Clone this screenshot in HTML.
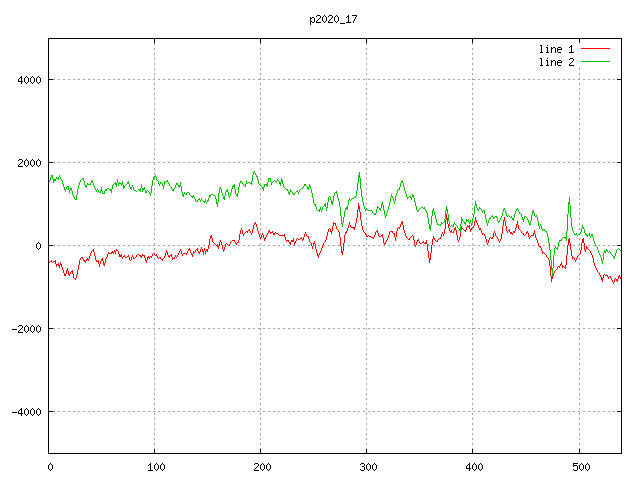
<!DOCTYPE html>
<html><head><meta charset="utf-8"><title>p2020_17</title>
<style>html,body{margin:0;padding:0;background:#fff;overflow:hidden}svg{display:block}text{font-family:"Liberation Mono",monospace;font-size:10px;fill:#000;fill-opacity:0}</style>
</head><body>
<svg width="640" height="480" viewBox="0 0 640 480" shape-rendering="crispEdges">
<rect width="640" height="480" fill="#fff"/>
<path fill="#a0a0a0" d="M154 43h1v1h-1zM260 43h1v1h-1zM366 43h1v1h-1zM472 43h1v1h-1zM154 44h1v1h-1zM260 44h1v1h-1zM366 44h1v1h-1zM472 44h1v1h-1zM154 48h1v1h-1zM260 48h1v1h-1zM366 48h1v1h-1zM472 48h1v1h-1zM154 49h1v1h-1zM260 49h1v1h-1zM366 49h1v1h-1zM472 49h1v1h-1zM154 53h1v1h-1zM260 53h1v1h-1zM366 53h1v1h-1zM472 53h1v1h-1zM154 54h1v1h-1zM260 54h1v1h-1zM366 54h1v1h-1zM472 54h1v1h-1zM154 58h1v1h-1zM260 58h1v1h-1zM366 58h1v1h-1zM472 58h1v1h-1zM154 59h1v1h-1zM260 59h1v1h-1zM366 59h1v1h-1zM472 59h1v1h-1zM154 63h1v1h-1zM260 63h1v1h-1zM366 63h1v1h-1zM472 63h1v1h-1zM154 64h1v1h-1zM260 64h1v1h-1zM366 64h1v1h-1zM472 64h1v1h-1zM154 68h1v1h-1zM260 68h1v1h-1zM366 68h1v1h-1zM472 68h1v1h-1zM579 68h1v1h-1zM154 69h1v1h-1zM260 69h1v1h-1zM366 69h1v1h-1zM472 69h1v1h-1zM579 69h1v1h-1zM154 73h1v1h-1zM260 73h1v1h-1zM366 73h1v1h-1zM472 73h1v1h-1zM579 73h1v1h-1zM154 74h1v1h-1zM260 74h1v1h-1zM366 74h1v1h-1zM472 74h1v1h-1zM579 74h1v1h-1zM154 78h1v1h-1zM260 78h1v1h-1zM366 78h1v1h-1zM472 78h1v1h-1zM579 78h1v1h-1zM53 79h2v1h-2zM58 79h2v1h-2zM63 79h2v1h-2zM68 79h2v1h-2zM73 79h2v1h-2zM78 79h2v1h-2zM83 79h2v1h-2zM88 79h2v1h-2zM93 79h2v1h-2zM98 79h2v1h-2zM103 79h2v1h-2zM108 79h2v1h-2zM113 79h2v1h-2zM118 79h2v1h-2zM123 79h2v1h-2zM128 79h2v1h-2zM133 79h2v1h-2zM138 79h2v1h-2zM143 79h2v1h-2zM148 79h2v1h-2zM153 79h2v1h-2zM158 79h2v1h-2zM163 79h2v1h-2zM168 79h2v1h-2zM173 79h2v1h-2zM178 79h2v1h-2zM183 79h2v1h-2zM188 79h2v1h-2zM193 79h2v1h-2zM198 79h2v1h-2zM203 79h2v1h-2zM208 79h2v1h-2zM213 79h2v1h-2zM218 79h2v1h-2zM223 79h2v1h-2zM228 79h2v1h-2zM233 79h2v1h-2zM238 79h2v1h-2zM243 79h2v1h-2zM248 79h2v1h-2zM253 79h2v1h-2zM258 79h3v1h-3zM263 79h2v1h-2zM268 79h2v1h-2zM273 79h2v1h-2zM278 79h2v1h-2zM283 79h2v1h-2zM288 79h2v1h-2zM293 79h2v1h-2zM298 79h2v1h-2zM303 79h2v1h-2zM308 79h2v1h-2zM313 79h2v1h-2zM318 79h2v1h-2zM323 79h2v1h-2zM328 79h2v1h-2zM333 79h2v1h-2zM338 79h2v1h-2zM343 79h2v1h-2zM348 79h2v1h-2zM353 79h2v1h-2zM358 79h2v1h-2zM363 79h2v1h-2zM366 79h1v1h-1zM368 79h2v1h-2zM373 79h2v1h-2zM378 79h2v1h-2zM383 79h2v1h-2zM388 79h2v1h-2zM393 79h2v1h-2zM398 79h2v1h-2zM403 79h2v1h-2zM408 79h2v1h-2zM413 79h2v1h-2zM418 79h2v1h-2zM423 79h2v1h-2zM428 79h2v1h-2zM433 79h2v1h-2zM438 79h2v1h-2zM443 79h2v1h-2zM448 79h2v1h-2zM453 79h2v1h-2zM458 79h2v1h-2zM463 79h2v1h-2zM468 79h2v1h-2zM472 79h3v1h-3zM478 79h2v1h-2zM483 79h2v1h-2zM488 79h2v1h-2zM493 79h2v1h-2zM498 79h2v1h-2zM503 79h2v1h-2zM508 79h2v1h-2zM513 79h2v1h-2zM518 79h2v1h-2zM523 79h2v1h-2zM528 79h2v1h-2zM533 79h2v1h-2zM538 79h2v1h-2zM543 79h2v1h-2zM548 79h2v1h-2zM553 79h2v1h-2zM558 79h2v1h-2zM563 79h2v1h-2zM568 79h2v1h-2zM573 79h2v1h-2zM578 79h2v1h-2zM583 79h2v1h-2zM588 79h2v1h-2zM593 79h2v1h-2zM598 79h2v1h-2zM603 79h2v1h-2zM608 79h2v1h-2zM613 79h2v1h-2zM154 83h1v1h-1zM260 83h1v1h-1zM366 83h1v1h-1zM472 83h1v1h-1zM579 83h1v1h-1zM154 84h1v1h-1zM260 84h1v1h-1zM366 84h1v1h-1zM472 84h1v1h-1zM579 84h1v1h-1zM154 88h1v1h-1zM260 88h1v1h-1zM366 88h1v1h-1zM472 88h1v1h-1zM579 88h1v1h-1zM154 89h1v1h-1zM260 89h1v1h-1zM366 89h1v1h-1zM472 89h1v1h-1zM579 89h1v1h-1zM154 93h1v1h-1zM260 93h1v1h-1zM366 93h1v1h-1zM472 93h1v1h-1zM579 93h1v1h-1zM154 94h1v1h-1zM260 94h1v1h-1zM366 94h1v1h-1zM472 94h1v1h-1zM579 94h1v1h-1zM154 98h1v1h-1zM260 98h1v1h-1zM366 98h1v1h-1zM472 98h1v1h-1zM579 98h1v1h-1zM154 99h1v1h-1zM260 99h1v1h-1zM366 99h1v1h-1zM472 99h1v1h-1zM579 99h1v1h-1zM154 103h1v1h-1zM260 103h1v1h-1zM366 103h1v1h-1zM472 103h1v1h-1zM579 103h1v1h-1zM154 104h1v1h-1zM260 104h1v1h-1zM366 104h1v1h-1zM472 104h1v1h-1zM579 104h1v1h-1zM154 108h1v1h-1zM260 108h1v1h-1zM366 108h1v1h-1zM472 108h1v1h-1zM579 108h1v1h-1zM154 109h1v1h-1zM260 109h1v1h-1zM366 109h1v1h-1zM472 109h1v1h-1zM579 109h1v1h-1zM154 113h1v1h-1zM260 113h1v1h-1zM366 113h1v1h-1zM472 113h1v1h-1zM579 113h1v1h-1zM154 114h1v1h-1zM260 114h1v1h-1zM366 114h1v1h-1zM472 114h1v1h-1zM579 114h1v1h-1zM154 118h1v1h-1zM260 118h1v1h-1zM366 118h1v1h-1zM472 118h1v1h-1zM579 118h1v1h-1zM154 119h1v1h-1zM260 119h1v1h-1zM366 119h1v1h-1zM472 119h1v1h-1zM579 119h1v1h-1zM154 123h1v1h-1zM260 123h1v1h-1zM366 123h1v1h-1zM472 123h1v1h-1zM579 123h1v1h-1zM154 124h1v1h-1zM260 124h1v1h-1zM366 124h1v1h-1zM472 124h1v1h-1zM579 124h1v1h-1zM154 128h1v1h-1zM260 128h1v1h-1zM366 128h1v1h-1zM472 128h1v1h-1zM579 128h1v1h-1zM154 129h1v1h-1zM260 129h1v1h-1zM366 129h1v1h-1zM472 129h1v1h-1zM579 129h1v1h-1zM154 133h1v1h-1zM260 133h1v1h-1zM366 133h1v1h-1zM472 133h1v1h-1zM579 133h1v1h-1zM154 134h1v1h-1zM260 134h1v1h-1zM366 134h1v1h-1zM472 134h1v1h-1zM579 134h1v1h-1zM154 138h1v1h-1zM260 138h1v1h-1zM366 138h1v1h-1zM472 138h1v1h-1zM579 138h1v1h-1zM154 139h1v1h-1zM260 139h1v1h-1zM366 139h1v1h-1zM472 139h1v1h-1zM579 139h1v1h-1zM154 143h1v1h-1zM260 143h1v1h-1zM366 143h1v1h-1zM472 143h1v1h-1zM579 143h1v1h-1zM154 144h1v1h-1zM260 144h1v1h-1zM366 144h1v1h-1zM472 144h1v1h-1zM579 144h1v1h-1zM154 148h1v1h-1zM260 148h1v1h-1zM366 148h1v1h-1zM472 148h1v1h-1zM579 148h1v1h-1zM154 149h1v1h-1zM260 149h1v1h-1zM366 149h1v1h-1zM472 149h1v1h-1zM579 149h1v1h-1zM154 153h1v1h-1zM260 153h1v1h-1zM366 153h1v1h-1zM472 153h1v1h-1zM579 153h1v1h-1zM154 154h1v1h-1zM260 154h1v1h-1zM366 154h1v1h-1zM472 154h1v1h-1zM579 154h1v1h-1zM154 158h1v1h-1zM260 158h1v1h-1zM366 158h1v1h-1zM472 158h1v1h-1zM579 158h1v1h-1zM154 159h1v1h-1zM260 159h1v1h-1zM366 159h1v1h-1zM472 159h1v1h-1zM579 159h1v1h-1zM53 162h2v1h-2zM58 162h2v1h-2zM63 162h2v1h-2zM68 162h2v1h-2zM73 162h2v1h-2zM78 162h2v1h-2zM83 162h2v1h-2zM88 162h2v1h-2zM93 162h2v1h-2zM98 162h2v1h-2zM103 162h2v1h-2zM108 162h2v1h-2zM113 162h2v1h-2zM118 162h2v1h-2zM123 162h2v1h-2zM128 162h2v1h-2zM133 162h2v1h-2zM138 162h2v1h-2zM143 162h2v1h-2zM148 162h2v1h-2zM153 162h2v1h-2zM158 162h2v1h-2zM163 162h2v1h-2zM168 162h2v1h-2zM173 162h2v1h-2zM178 162h2v1h-2zM183 162h2v1h-2zM188 162h2v1h-2zM193 162h2v1h-2zM198 162h2v1h-2zM203 162h2v1h-2zM208 162h2v1h-2zM213 162h2v1h-2zM218 162h2v1h-2zM223 162h2v1h-2zM228 162h2v1h-2zM233 162h2v1h-2zM238 162h2v1h-2zM243 162h2v1h-2zM248 162h2v1h-2zM253 162h2v1h-2zM258 162h2v1h-2zM263 162h2v1h-2zM268 162h2v1h-2zM273 162h2v1h-2zM278 162h2v1h-2zM283 162h2v1h-2zM288 162h2v1h-2zM293 162h2v1h-2zM298 162h2v1h-2zM303 162h2v1h-2zM308 162h2v1h-2zM313 162h2v1h-2zM318 162h2v1h-2zM323 162h2v1h-2zM328 162h2v1h-2zM333 162h2v1h-2zM338 162h2v1h-2zM343 162h2v1h-2zM348 162h2v1h-2zM353 162h2v1h-2zM358 162h2v1h-2zM363 162h2v1h-2zM368 162h2v1h-2zM373 162h2v1h-2zM378 162h2v1h-2zM383 162h2v1h-2zM388 162h2v1h-2zM393 162h2v1h-2zM398 162h2v1h-2zM403 162h2v1h-2zM408 162h2v1h-2zM413 162h2v1h-2zM418 162h2v1h-2zM423 162h2v1h-2zM428 162h2v1h-2zM433 162h2v1h-2zM438 162h2v1h-2zM443 162h2v1h-2zM448 162h2v1h-2zM453 162h2v1h-2zM458 162h2v1h-2zM463 162h2v1h-2zM468 162h2v1h-2zM473 162h2v1h-2zM478 162h2v1h-2zM483 162h2v1h-2zM488 162h2v1h-2zM493 162h2v1h-2zM498 162h2v1h-2zM503 162h2v1h-2zM508 162h2v1h-2zM513 162h2v1h-2zM518 162h2v1h-2zM523 162h2v1h-2zM528 162h2v1h-2zM533 162h2v1h-2zM538 162h2v1h-2zM543 162h2v1h-2zM548 162h2v1h-2zM553 162h2v1h-2zM558 162h2v1h-2zM563 162h2v1h-2zM568 162h2v1h-2zM573 162h2v1h-2zM578 162h2v1h-2zM583 162h2v1h-2zM588 162h2v1h-2zM593 162h2v1h-2zM598 162h2v1h-2zM603 162h2v1h-2zM608 162h2v1h-2zM613 162h2v1h-2zM154 163h1v1h-1zM260 163h1v1h-1zM366 163h1v1h-1zM472 163h1v1h-1zM579 163h1v1h-1zM154 164h1v1h-1zM260 164h1v1h-1zM366 164h1v1h-1zM472 164h1v1h-1zM579 164h1v1h-1zM154 168h1v1h-1zM260 168h1v1h-1zM366 168h1v1h-1zM472 168h1v1h-1zM579 168h1v1h-1zM154 169h1v1h-1zM260 169h1v1h-1zM366 169h1v1h-1zM472 169h1v1h-1zM579 169h1v1h-1zM154 173h1v1h-1zM260 173h1v1h-1zM366 173h1v1h-1zM472 173h1v1h-1zM579 173h1v1h-1zM154 174h1v1h-1zM260 174h1v1h-1zM366 174h1v1h-1zM472 174h1v1h-1zM579 174h1v1h-1zM154 178h1v1h-1zM260 178h1v1h-1zM366 178h1v1h-1zM472 178h1v1h-1zM579 178h1v1h-1zM154 179h1v1h-1zM260 179h1v1h-1zM366 179h1v1h-1zM472 179h1v1h-1zM579 179h1v1h-1zM154 183h1v1h-1zM260 183h1v1h-1zM366 183h1v1h-1zM472 183h1v1h-1zM579 183h1v1h-1zM154 184h1v1h-1zM260 184h1v1h-1zM366 184h1v1h-1zM472 184h1v1h-1zM579 184h1v1h-1zM154 188h1v1h-1zM260 188h1v1h-1zM366 188h1v1h-1zM472 188h1v1h-1zM579 188h1v1h-1zM154 189h1v1h-1zM260 189h1v1h-1zM366 189h1v1h-1zM472 189h1v1h-1zM579 189h1v1h-1zM154 193h1v1h-1zM260 193h1v1h-1zM366 193h1v1h-1zM472 193h1v1h-1zM579 193h1v1h-1zM154 194h1v1h-1zM260 194h1v1h-1zM366 194h1v1h-1zM472 194h1v1h-1zM579 194h1v1h-1zM154 198h1v1h-1zM260 198h1v1h-1zM366 198h1v1h-1zM472 198h1v1h-1zM579 198h1v1h-1zM154 199h1v1h-1zM260 199h1v1h-1zM366 199h1v1h-1zM472 199h1v1h-1zM579 199h1v1h-1zM154 203h1v1h-1zM260 203h1v1h-1zM366 203h1v1h-1zM472 203h1v1h-1zM579 203h1v1h-1zM154 204h1v1h-1zM260 204h1v1h-1zM366 204h1v1h-1zM472 204h1v1h-1zM579 204h1v1h-1zM154 208h1v1h-1zM260 208h1v1h-1zM366 208h1v1h-1zM472 208h1v1h-1zM579 208h1v1h-1zM154 209h1v1h-1zM260 209h1v1h-1zM366 209h1v1h-1zM472 209h1v1h-1zM579 209h1v1h-1zM154 213h1v1h-1zM260 213h1v1h-1zM366 213h1v1h-1zM472 213h1v1h-1zM579 213h1v1h-1zM154 214h1v1h-1zM260 214h1v1h-1zM366 214h1v1h-1zM472 214h1v1h-1zM579 214h1v1h-1zM154 218h1v1h-1zM260 218h1v1h-1zM366 218h1v1h-1zM472 218h1v1h-1zM579 218h1v1h-1zM154 219h1v1h-1zM260 219h1v1h-1zM366 219h1v1h-1zM472 219h1v1h-1zM579 219h1v1h-1zM154 223h1v1h-1zM260 223h1v1h-1zM366 223h1v1h-1zM472 223h1v1h-1zM579 223h1v1h-1zM154 224h1v1h-1zM260 224h1v1h-1zM366 224h1v1h-1zM472 224h1v1h-1zM579 224h1v1h-1zM154 228h1v1h-1zM260 228h1v1h-1zM366 228h1v1h-1zM472 228h1v1h-1zM579 228h1v1h-1zM154 229h1v1h-1zM260 229h1v1h-1zM366 229h1v1h-1zM472 229h1v1h-1zM579 229h1v1h-1zM154 233h1v1h-1zM260 233h1v1h-1zM366 233h1v1h-1zM472 233h1v1h-1zM579 233h1v1h-1zM154 234h1v1h-1zM260 234h1v1h-1zM366 234h1v1h-1zM472 234h1v1h-1zM579 234h1v1h-1zM154 238h1v1h-1zM260 238h1v1h-1zM366 238h1v1h-1zM472 238h1v1h-1zM579 238h1v1h-1zM154 239h1v1h-1zM260 239h1v1h-1zM366 239h1v1h-1zM472 239h1v1h-1zM579 239h1v1h-1zM154 243h1v1h-1zM260 243h1v1h-1zM366 243h1v1h-1zM472 243h1v1h-1zM579 243h1v1h-1zM154 244h1v1h-1zM260 244h1v1h-1zM366 244h1v1h-1zM472 244h1v1h-1zM579 244h1v1h-1zM53 245h2v1h-2zM58 245h2v1h-2zM63 245h2v1h-2zM68 245h2v1h-2zM73 245h2v1h-2zM78 245h2v1h-2zM83 245h2v1h-2zM88 245h2v1h-2zM93 245h2v1h-2zM98 245h2v1h-2zM103 245h2v1h-2zM108 245h2v1h-2zM113 245h2v1h-2zM118 245h2v1h-2zM123 245h2v1h-2zM128 245h2v1h-2zM133 245h2v1h-2zM138 245h2v1h-2zM143 245h2v1h-2zM148 245h2v1h-2zM153 245h2v1h-2zM158 245h2v1h-2zM163 245h2v1h-2zM168 245h2v1h-2zM173 245h2v1h-2zM178 245h2v1h-2zM183 245h2v1h-2zM188 245h2v1h-2zM193 245h2v1h-2zM198 245h2v1h-2zM203 245h2v1h-2zM208 245h2v1h-2zM213 245h2v1h-2zM218 245h2v1h-2zM223 245h2v1h-2zM228 245h2v1h-2zM233 245h2v1h-2zM238 245h2v1h-2zM243 245h2v1h-2zM248 245h2v1h-2zM253 245h2v1h-2zM258 245h2v1h-2zM263 245h2v1h-2zM268 245h2v1h-2zM273 245h2v1h-2zM278 245h2v1h-2zM283 245h2v1h-2zM288 245h2v1h-2zM293 245h2v1h-2zM298 245h2v1h-2zM303 245h2v1h-2zM308 245h2v1h-2zM313 245h2v1h-2zM318 245h2v1h-2zM323 245h2v1h-2zM328 245h2v1h-2zM333 245h2v1h-2zM338 245h2v1h-2zM343 245h2v1h-2zM348 245h2v1h-2zM353 245h2v1h-2zM358 245h2v1h-2zM363 245h2v1h-2zM368 245h2v1h-2zM373 245h2v1h-2zM378 245h2v1h-2zM383 245h2v1h-2zM388 245h2v1h-2zM393 245h2v1h-2zM398 245h2v1h-2zM403 245h2v1h-2zM408 245h2v1h-2zM413 245h2v1h-2zM418 245h2v1h-2zM423 245h2v1h-2zM428 245h2v1h-2zM433 245h2v1h-2zM438 245h2v1h-2zM443 245h2v1h-2zM448 245h2v1h-2zM453 245h2v1h-2zM458 245h2v1h-2zM463 245h2v1h-2zM468 245h2v1h-2zM473 245h2v1h-2zM478 245h2v1h-2zM483 245h2v1h-2zM488 245h2v1h-2zM493 245h2v1h-2zM498 245h2v1h-2zM503 245h2v1h-2zM508 245h2v1h-2zM513 245h2v1h-2zM518 245h2v1h-2zM523 245h2v1h-2zM528 245h2v1h-2zM533 245h2v1h-2zM538 245h2v1h-2zM543 245h2v1h-2zM548 245h2v1h-2zM553 245h2v1h-2zM558 245h2v1h-2zM563 245h2v1h-2zM568 245h2v1h-2zM573 245h2v1h-2zM578 245h2v1h-2zM583 245h2v1h-2zM588 245h2v1h-2zM593 245h2v1h-2zM598 245h2v1h-2zM603 245h2v1h-2zM608 245h2v1h-2zM613 245h2v1h-2zM154 248h1v1h-1zM260 248h1v1h-1zM366 248h1v1h-1zM472 248h1v1h-1zM579 248h1v1h-1zM154 249h1v1h-1zM260 249h1v1h-1zM366 249h1v1h-1zM472 249h1v1h-1zM579 249h1v1h-1zM154 253h1v1h-1zM260 253h1v1h-1zM366 253h1v1h-1zM472 253h1v1h-1zM579 253h1v1h-1zM154 254h1v1h-1zM260 254h1v1h-1zM366 254h1v1h-1zM472 254h1v1h-1zM579 254h1v1h-1zM154 258h1v1h-1zM260 258h1v1h-1zM366 258h1v1h-1zM472 258h1v1h-1zM579 258h1v1h-1zM154 259h1v1h-1zM260 259h1v1h-1zM366 259h1v1h-1zM472 259h1v1h-1zM579 259h1v1h-1zM154 263h1v1h-1zM260 263h1v1h-1zM366 263h1v1h-1zM472 263h1v1h-1zM579 263h1v1h-1zM154 264h1v1h-1zM260 264h1v1h-1zM366 264h1v1h-1zM472 264h1v1h-1zM579 264h1v1h-1zM154 268h1v1h-1zM260 268h1v1h-1zM366 268h1v1h-1zM472 268h1v1h-1zM579 268h1v1h-1zM154 269h1v1h-1zM260 269h1v1h-1zM366 269h1v1h-1zM472 269h1v1h-1zM579 269h1v1h-1zM154 273h1v1h-1zM260 273h1v1h-1zM366 273h1v1h-1zM472 273h1v1h-1zM579 273h1v1h-1zM154 274h1v1h-1zM260 274h1v1h-1zM366 274h1v1h-1zM472 274h1v1h-1zM579 274h1v1h-1zM154 278h1v1h-1zM260 278h1v1h-1zM366 278h1v1h-1zM472 278h1v1h-1zM579 278h1v1h-1zM154 279h1v1h-1zM260 279h1v1h-1zM366 279h1v1h-1zM472 279h1v1h-1zM579 279h1v1h-1zM154 283h1v1h-1zM260 283h1v1h-1zM366 283h1v1h-1zM472 283h1v1h-1zM579 283h1v1h-1zM154 284h1v1h-1zM260 284h1v1h-1zM366 284h1v1h-1zM472 284h1v1h-1zM579 284h1v1h-1zM154 288h1v1h-1zM260 288h1v1h-1zM366 288h1v1h-1zM472 288h1v1h-1zM579 288h1v1h-1zM154 289h1v1h-1zM260 289h1v1h-1zM366 289h1v1h-1zM472 289h1v1h-1zM579 289h1v1h-1zM154 293h1v1h-1zM260 293h1v1h-1zM366 293h1v1h-1zM472 293h1v1h-1zM579 293h1v1h-1zM154 294h1v1h-1zM260 294h1v1h-1zM366 294h1v1h-1zM472 294h1v1h-1zM579 294h1v1h-1zM154 298h1v1h-1zM260 298h1v1h-1zM366 298h1v1h-1zM472 298h1v1h-1zM579 298h1v1h-1zM154 299h1v1h-1zM260 299h1v1h-1zM366 299h1v1h-1zM472 299h1v1h-1zM579 299h1v1h-1zM154 303h1v1h-1zM260 303h1v1h-1zM366 303h1v1h-1zM472 303h1v1h-1zM579 303h1v1h-1zM154 304h1v1h-1zM260 304h1v1h-1zM366 304h1v1h-1zM472 304h1v1h-1zM579 304h1v1h-1zM154 308h1v1h-1zM260 308h1v1h-1zM366 308h1v1h-1zM472 308h1v1h-1zM579 308h1v1h-1zM154 309h1v1h-1zM260 309h1v1h-1zM366 309h1v1h-1zM472 309h1v1h-1zM579 309h1v1h-1zM154 313h1v1h-1zM260 313h1v1h-1zM366 313h1v1h-1zM472 313h1v1h-1zM579 313h1v1h-1zM154 314h1v1h-1zM260 314h1v1h-1zM366 314h1v1h-1zM472 314h1v1h-1zM579 314h1v1h-1zM154 318h1v1h-1zM260 318h1v1h-1zM366 318h1v1h-1zM472 318h1v1h-1zM579 318h1v1h-1zM154 319h1v1h-1zM260 319h1v1h-1zM366 319h1v1h-1zM472 319h1v1h-1zM579 319h1v1h-1zM154 323h1v1h-1zM260 323h1v1h-1zM366 323h1v1h-1zM472 323h1v1h-1zM579 323h1v1h-1zM154 324h1v1h-1zM260 324h1v1h-1zM366 324h1v1h-1zM472 324h1v1h-1zM579 324h1v1h-1zM53 328h2v1h-2zM58 328h2v1h-2zM63 328h2v1h-2zM68 328h2v1h-2zM73 328h2v1h-2zM78 328h2v1h-2zM83 328h2v1h-2zM88 328h2v1h-2zM93 328h2v1h-2zM98 328h2v1h-2zM103 328h2v1h-2zM108 328h2v1h-2zM113 328h2v1h-2zM118 328h2v1h-2zM123 328h2v1h-2zM128 328h2v1h-2zM133 328h2v1h-2zM138 328h2v1h-2zM143 328h2v1h-2zM148 328h2v1h-2zM153 328h2v1h-2zM158 328h2v1h-2zM163 328h2v1h-2zM168 328h2v1h-2zM173 328h2v1h-2zM178 328h2v1h-2zM183 328h2v1h-2zM188 328h2v1h-2zM193 328h2v1h-2zM198 328h2v1h-2zM203 328h2v1h-2zM208 328h2v1h-2zM213 328h2v1h-2zM218 328h2v1h-2zM223 328h2v1h-2zM228 328h2v1h-2zM233 328h2v1h-2zM238 328h2v1h-2zM243 328h2v1h-2zM248 328h2v1h-2zM253 328h2v1h-2zM258 328h3v1h-3zM263 328h2v1h-2zM268 328h2v1h-2zM273 328h2v1h-2zM278 328h2v1h-2zM283 328h2v1h-2zM288 328h2v1h-2zM293 328h2v1h-2zM298 328h2v1h-2zM303 328h2v1h-2zM308 328h2v1h-2zM313 328h2v1h-2zM318 328h2v1h-2zM323 328h2v1h-2zM328 328h2v1h-2zM333 328h2v1h-2zM338 328h2v1h-2zM343 328h2v1h-2zM348 328h2v1h-2zM353 328h2v1h-2zM358 328h2v1h-2zM363 328h2v1h-2zM366 328h1v1h-1zM368 328h2v1h-2zM373 328h2v1h-2zM378 328h2v1h-2zM383 328h2v1h-2zM388 328h2v1h-2zM393 328h2v1h-2zM398 328h2v1h-2zM403 328h2v1h-2zM408 328h2v1h-2zM413 328h2v1h-2zM418 328h2v1h-2zM423 328h2v1h-2zM428 328h2v1h-2zM433 328h2v1h-2zM438 328h2v1h-2zM443 328h2v1h-2zM448 328h2v1h-2zM453 328h2v1h-2zM458 328h2v1h-2zM463 328h2v1h-2zM468 328h2v1h-2zM472 328h3v1h-3zM478 328h2v1h-2zM483 328h2v1h-2zM488 328h2v1h-2zM493 328h2v1h-2zM498 328h2v1h-2zM503 328h2v1h-2zM508 328h2v1h-2zM513 328h2v1h-2zM518 328h2v1h-2zM523 328h2v1h-2zM528 328h2v1h-2zM533 328h2v1h-2zM538 328h2v1h-2zM543 328h2v1h-2zM548 328h2v1h-2zM553 328h2v1h-2zM558 328h2v1h-2zM563 328h2v1h-2zM568 328h2v1h-2zM573 328h2v1h-2zM578 328h2v1h-2zM583 328h2v1h-2zM588 328h2v1h-2zM593 328h2v1h-2zM598 328h2v1h-2zM603 328h2v1h-2zM608 328h2v1h-2zM613 328h2v1h-2zM154 329h1v1h-1zM260 329h1v1h-1zM366 329h1v1h-1zM472 329h1v1h-1zM579 329h1v1h-1zM154 333h1v1h-1zM260 333h1v1h-1zM366 333h1v1h-1zM472 333h1v1h-1zM579 333h1v1h-1zM154 334h1v1h-1zM260 334h1v1h-1zM366 334h1v1h-1zM472 334h1v1h-1zM579 334h1v1h-1zM154 338h1v1h-1zM260 338h1v1h-1zM366 338h1v1h-1zM472 338h1v1h-1zM579 338h1v1h-1zM154 339h1v1h-1zM260 339h1v1h-1zM366 339h1v1h-1zM472 339h1v1h-1zM579 339h1v1h-1zM154 343h1v1h-1zM260 343h1v1h-1zM366 343h1v1h-1zM472 343h1v1h-1zM579 343h1v1h-1zM154 344h1v1h-1zM260 344h1v1h-1zM366 344h1v1h-1zM472 344h1v1h-1zM579 344h1v1h-1zM154 348h1v1h-1zM260 348h1v1h-1zM366 348h1v1h-1zM472 348h1v1h-1zM579 348h1v1h-1zM154 349h1v1h-1zM260 349h1v1h-1zM366 349h1v1h-1zM472 349h1v1h-1zM579 349h1v1h-1zM154 353h1v1h-1zM260 353h1v1h-1zM366 353h1v1h-1zM472 353h1v1h-1zM579 353h1v1h-1zM154 354h1v1h-1zM260 354h1v1h-1zM366 354h1v1h-1zM472 354h1v1h-1zM579 354h1v1h-1zM154 358h1v1h-1zM260 358h1v1h-1zM366 358h1v1h-1zM472 358h1v1h-1zM579 358h1v1h-1zM154 359h1v1h-1zM260 359h1v1h-1zM366 359h1v1h-1zM472 359h1v1h-1zM579 359h1v1h-1zM154 363h1v1h-1zM260 363h1v1h-1zM366 363h1v1h-1zM472 363h1v1h-1zM579 363h1v1h-1zM154 364h1v1h-1zM260 364h1v1h-1zM366 364h1v1h-1zM472 364h1v1h-1zM579 364h1v1h-1zM154 368h1v1h-1zM260 368h1v1h-1zM366 368h1v1h-1zM472 368h1v1h-1zM579 368h1v1h-1zM154 369h1v1h-1zM260 369h1v1h-1zM366 369h1v1h-1zM472 369h1v1h-1zM579 369h1v1h-1zM154 373h1v1h-1zM260 373h1v1h-1zM366 373h1v1h-1zM472 373h1v1h-1zM579 373h1v1h-1zM154 374h1v1h-1zM260 374h1v1h-1zM366 374h1v1h-1zM472 374h1v1h-1zM579 374h1v1h-1zM154 378h1v1h-1zM260 378h1v1h-1zM366 378h1v1h-1zM472 378h1v1h-1zM579 378h1v1h-1zM154 379h1v1h-1zM260 379h1v1h-1zM366 379h1v1h-1zM472 379h1v1h-1zM579 379h1v1h-1zM154 383h1v1h-1zM260 383h1v1h-1zM366 383h1v1h-1zM472 383h1v1h-1zM579 383h1v1h-1zM154 384h1v1h-1zM260 384h1v1h-1zM366 384h1v1h-1zM472 384h1v1h-1zM579 384h1v1h-1zM154 388h1v1h-1zM260 388h1v1h-1zM366 388h1v1h-1zM472 388h1v1h-1zM579 388h1v1h-1zM154 389h1v1h-1zM260 389h1v1h-1zM366 389h1v1h-1zM472 389h1v1h-1zM579 389h1v1h-1zM154 393h1v1h-1zM260 393h1v1h-1zM366 393h1v1h-1zM472 393h1v1h-1zM579 393h1v1h-1zM154 394h1v1h-1zM260 394h1v1h-1zM366 394h1v1h-1zM472 394h1v1h-1zM579 394h1v1h-1zM154 398h1v1h-1zM260 398h1v1h-1zM366 398h1v1h-1zM472 398h1v1h-1zM579 398h1v1h-1zM154 399h1v1h-1zM260 399h1v1h-1zM366 399h1v1h-1zM472 399h1v1h-1zM579 399h1v1h-1zM154 403h1v1h-1zM260 403h1v1h-1zM366 403h1v1h-1zM472 403h1v1h-1zM579 403h1v1h-1zM154 404h1v1h-1zM260 404h1v1h-1zM366 404h1v1h-1zM472 404h1v1h-1zM579 404h1v1h-1zM154 408h1v1h-1zM260 408h1v1h-1zM366 408h1v1h-1zM472 408h1v1h-1zM579 408h1v1h-1zM154 409h1v1h-1zM260 409h1v1h-1zM366 409h1v1h-1zM472 409h1v1h-1zM579 409h1v1h-1zM53 411h2v1h-2zM58 411h2v1h-2zM63 411h2v1h-2zM68 411h2v1h-2zM73 411h2v1h-2zM78 411h2v1h-2zM83 411h2v1h-2zM88 411h2v1h-2zM93 411h2v1h-2zM98 411h2v1h-2zM103 411h2v1h-2zM108 411h2v1h-2zM113 411h2v1h-2zM118 411h2v1h-2zM123 411h2v1h-2zM128 411h2v1h-2zM133 411h2v1h-2zM138 411h2v1h-2zM143 411h2v1h-2zM148 411h2v1h-2zM153 411h2v1h-2zM158 411h2v1h-2zM163 411h2v1h-2zM168 411h2v1h-2zM173 411h2v1h-2zM178 411h2v1h-2zM183 411h2v1h-2zM188 411h2v1h-2zM193 411h2v1h-2zM198 411h2v1h-2zM203 411h2v1h-2zM208 411h2v1h-2zM213 411h2v1h-2zM218 411h2v1h-2zM223 411h2v1h-2zM228 411h2v1h-2zM233 411h2v1h-2zM238 411h2v1h-2zM243 411h2v1h-2zM248 411h2v1h-2zM253 411h2v1h-2zM258 411h2v1h-2zM263 411h2v1h-2zM268 411h2v1h-2zM273 411h2v1h-2zM278 411h2v1h-2zM283 411h2v1h-2zM288 411h2v1h-2zM293 411h2v1h-2zM298 411h2v1h-2zM303 411h2v1h-2zM308 411h2v1h-2zM313 411h2v1h-2zM318 411h2v1h-2zM323 411h2v1h-2zM328 411h2v1h-2zM333 411h2v1h-2zM338 411h2v1h-2zM343 411h2v1h-2zM348 411h2v1h-2zM353 411h2v1h-2zM358 411h2v1h-2zM363 411h2v1h-2zM368 411h2v1h-2zM373 411h2v1h-2zM378 411h2v1h-2zM383 411h2v1h-2zM388 411h2v1h-2zM393 411h2v1h-2zM398 411h2v1h-2zM403 411h2v1h-2zM408 411h2v1h-2zM413 411h2v1h-2zM418 411h2v1h-2zM423 411h2v1h-2zM428 411h2v1h-2zM433 411h2v1h-2zM438 411h2v1h-2zM443 411h2v1h-2zM448 411h2v1h-2zM453 411h2v1h-2zM458 411h2v1h-2zM463 411h2v1h-2zM468 411h2v1h-2zM473 411h2v1h-2zM478 411h2v1h-2zM483 411h2v1h-2zM488 411h2v1h-2zM493 411h2v1h-2zM498 411h2v1h-2zM503 411h2v1h-2zM508 411h2v1h-2zM513 411h2v1h-2zM518 411h2v1h-2zM523 411h2v1h-2zM528 411h2v1h-2zM533 411h2v1h-2zM538 411h2v1h-2zM543 411h2v1h-2zM548 411h2v1h-2zM553 411h2v1h-2zM558 411h2v1h-2zM563 411h2v1h-2zM568 411h2v1h-2zM573 411h2v1h-2zM578 411h2v1h-2zM583 411h2v1h-2zM588 411h2v1h-2zM593 411h2v1h-2zM598 411h2v1h-2zM603 411h2v1h-2zM608 411h2v1h-2zM613 411h2v1h-2zM154 413h1v1h-1zM260 413h1v1h-1zM366 413h1v1h-1zM472 413h1v1h-1zM579 413h1v1h-1zM154 414h1v1h-1zM260 414h1v1h-1zM366 414h1v1h-1zM472 414h1v1h-1zM579 414h1v1h-1zM154 418h1v1h-1zM260 418h1v1h-1zM366 418h1v1h-1zM472 418h1v1h-1zM579 418h1v1h-1zM154 419h1v1h-1zM260 419h1v1h-1zM366 419h1v1h-1zM472 419h1v1h-1zM579 419h1v1h-1zM154 423h1v1h-1zM260 423h1v1h-1zM366 423h1v1h-1zM472 423h1v1h-1zM579 423h1v1h-1zM154 424h1v1h-1zM260 424h1v1h-1zM366 424h1v1h-1zM472 424h1v1h-1zM579 424h1v1h-1zM154 428h1v1h-1zM260 428h1v1h-1zM366 428h1v1h-1zM472 428h1v1h-1zM579 428h1v1h-1zM154 429h1v1h-1zM260 429h1v1h-1zM366 429h1v1h-1zM472 429h1v1h-1zM579 429h1v1h-1zM154 433h1v1h-1zM260 433h1v1h-1zM366 433h1v1h-1zM472 433h1v1h-1zM579 433h1v1h-1zM154 434h1v1h-1zM260 434h1v1h-1zM366 434h1v1h-1zM472 434h1v1h-1zM579 434h1v1h-1zM154 438h1v1h-1zM260 438h1v1h-1zM366 438h1v1h-1zM472 438h1v1h-1zM579 438h1v1h-1zM154 439h1v1h-1zM260 439h1v1h-1zM366 439h1v1h-1zM472 439h1v1h-1zM579 439h1v1h-1zM154 443h1v1h-1zM260 443h1v1h-1zM366 443h1v1h-1zM472 443h1v1h-1zM579 443h1v1h-1zM154 444h1v1h-1zM260 444h1v1h-1zM366 444h1v1h-1zM472 444h1v1h-1zM579 444h1v1h-1zM154 448h1v1h-1zM260 448h1v1h-1zM366 448h1v1h-1zM472 448h1v1h-1zM579 448h1v1h-1z"/>
<path fill="#000" d="M317 15h3v1h-3zM324 15h1v1h-1zM329 15h3v1h-3zM336 15h1v1h-1zM348 15h1v1h-1zM352 15h5v1h-5zM316 16h1v1h-1zM320 16h1v1h-1zM323 16h1v1h-1zM325 16h1v1h-1zM328 16h1v1h-1zM332 16h1v1h-1zM335 16h1v1h-1zM337 16h1v1h-1zM347 16h2v1h-2zM356 16h1v1h-1zM310 17h1v1h-1zM312 17h2v1h-2zM320 17h1v1h-1zM322 17h1v1h-1zM326 17h1v1h-1zM332 17h1v1h-1zM334 17h1v1h-1zM338 17h1v1h-1zM346 17h1v1h-1zM348 17h1v1h-1zM355 17h1v1h-1zM310 18h2v1h-2zM314 18h1v1h-1zM319 18h1v1h-1zM322 18h1v1h-1zM326 18h1v1h-1zM331 18h1v1h-1zM334 18h1v1h-1zM338 18h1v1h-1zM348 18h1v1h-1zM355 18h1v1h-1zM310 19h1v1h-1zM314 19h1v1h-1zM318 19h1v1h-1zM322 19h1v1h-1zM326 19h1v1h-1zM330 19h1v1h-1zM334 19h1v1h-1zM338 19h1v1h-1zM348 19h1v1h-1zM354 19h1v1h-1zM310 20h1v1h-1zM314 20h1v1h-1zM317 20h1v1h-1zM322 20h1v1h-1zM326 20h1v1h-1zM329 20h1v1h-1zM334 20h1v1h-1zM338 20h1v1h-1zM348 20h1v1h-1zM354 20h1v1h-1zM310 21h2v1h-2zM314 21h1v1h-1zM316 21h1v1h-1zM323 21h1v1h-1zM325 21h1v1h-1zM328 21h1v1h-1zM335 21h1v1h-1zM337 21h1v1h-1zM348 21h1v1h-1zM353 21h1v1h-1zM310 22h1v1h-1zM312 22h2v1h-2zM316 22h5v1h-5zM324 22h1v1h-1zM328 22h5v1h-5zM336 22h1v1h-1zM346 22h5v1h-5zM353 22h1v1h-1zM310 23h1v1h-1zM340 23h5v1h-5zM310 24h1v1h-1zM48 38h574v1h-574zM48 39h1v1h-1zM154 39h1v1h-1zM260 39h1v1h-1zM366 39h1v1h-1zM472 39h1v1h-1zM579 39h1v1h-1zM621 39h1v1h-1zM48 40h1v1h-1zM154 40h1v1h-1zM260 40h1v1h-1zM366 40h1v1h-1zM472 40h1v1h-1zM579 40h1v1h-1zM621 40h1v1h-1zM48 41h1v1h-1zM154 41h1v1h-1zM260 41h1v1h-1zM366 41h1v1h-1zM472 41h1v1h-1zM579 41h1v1h-1zM621 41h1v1h-1zM48 42h1v1h-1zM154 42h1v1h-1zM260 42h1v1h-1zM366 42h1v1h-1zM472 42h1v1h-1zM579 42h1v1h-1zM621 42h1v1h-1zM48 43h1v1h-1zM621 43h1v1h-1zM48 44h1v1h-1zM621 44h1v1h-1zM48 45h1v1h-1zM540 45h2v1h-2zM547 45h1v1h-1zM571 45h1v1h-1zM621 45h1v1h-1zM48 46h1v1h-1zM541 46h1v1h-1zM570 46h2v1h-2zM621 46h1v1h-1zM48 47h1v1h-1zM541 47h1v1h-1zM546 47h2v1h-2zM551 47h1v1h-1zM553 47h2v1h-2zM558 47h3v1h-3zM569 47h1v1h-1zM571 47h1v1h-1zM621 47h1v1h-1zM48 48h1v1h-1zM541 48h1v1h-1zM547 48h1v1h-1zM551 48h2v1h-2zM555 48h1v1h-1zM557 48h1v1h-1zM561 48h1v1h-1zM571 48h1v1h-1zM621 48h1v1h-1zM48 49h1v1h-1zM541 49h1v1h-1zM547 49h1v1h-1zM551 49h1v1h-1zM555 49h1v1h-1zM557 49h5v1h-5zM571 49h1v1h-1zM621 49h1v1h-1zM48 50h1v1h-1zM541 50h1v1h-1zM547 50h1v1h-1zM551 50h1v1h-1zM555 50h1v1h-1zM557 50h1v1h-1zM571 50h1v1h-1zM621 50h1v1h-1zM48 51h1v1h-1zM541 51h1v1h-1zM547 51h1v1h-1zM551 51h1v1h-1zM555 51h1v1h-1zM557 51h1v1h-1zM571 51h1v1h-1zM621 51h1v1h-1zM48 52h1v1h-1zM540 52h3v1h-3zM546 52h3v1h-3zM551 52h1v1h-1zM555 52h1v1h-1zM558 52h3v1h-3zM569 52h5v1h-5zM621 52h1v1h-1zM48 53h1v1h-1zM621 53h1v1h-1zM48 54h1v1h-1zM621 54h1v1h-1zM48 55h1v1h-1zM621 55h1v1h-1zM48 56h1v1h-1zM621 56h1v1h-1zM48 57h1v1h-1zM621 57h1v1h-1zM48 58h1v1h-1zM540 58h2v1h-2zM547 58h1v1h-1zM570 58h3v1h-3zM621 58h1v1h-1zM48 59h1v1h-1zM541 59h1v1h-1zM569 59h1v1h-1zM573 59h1v1h-1zM621 59h1v1h-1zM48 60h1v1h-1zM541 60h1v1h-1zM546 60h2v1h-2zM551 60h1v1h-1zM553 60h2v1h-2zM558 60h3v1h-3zM573 60h1v1h-1zM621 60h1v1h-1zM48 61h1v1h-1zM541 61h1v1h-1zM547 61h1v1h-1zM551 61h2v1h-2zM555 61h1v1h-1zM557 61h1v1h-1zM561 61h1v1h-1zM572 61h1v1h-1zM621 61h1v1h-1zM48 62h1v1h-1zM541 62h1v1h-1zM547 62h1v1h-1zM551 62h1v1h-1zM555 62h1v1h-1zM557 62h5v1h-5zM571 62h1v1h-1zM621 62h1v1h-1zM48 63h1v1h-1zM541 63h1v1h-1zM547 63h1v1h-1zM551 63h1v1h-1zM555 63h1v1h-1zM557 63h1v1h-1zM570 63h1v1h-1zM621 63h1v1h-1zM48 64h1v1h-1zM541 64h1v1h-1zM547 64h1v1h-1zM551 64h1v1h-1zM555 64h1v1h-1zM557 64h1v1h-1zM569 64h1v1h-1zM621 64h1v1h-1zM48 65h1v1h-1zM540 65h3v1h-3zM546 65h3v1h-3zM551 65h1v1h-1zM555 65h1v1h-1zM558 65h3v1h-3zM569 65h5v1h-5zM621 65h1v1h-1zM48 66h1v1h-1zM621 66h1v1h-1zM48 67h1v1h-1zM621 67h1v1h-1zM48 68h1v1h-1zM621 68h1v1h-1zM48 69h1v1h-1zM621 69h1v1h-1zM48 70h1v1h-1zM621 70h1v1h-1zM48 71h1v1h-1zM621 71h1v1h-1zM48 72h1v1h-1zM621 72h1v1h-1zM48 73h1v1h-1zM621 73h1v1h-1zM48 74h1v1h-1zM621 74h1v1h-1zM48 75h1v1h-1zM621 75h1v1h-1zM21 76h1v1h-1zM26 76h1v1h-1zM32 76h1v1h-1zM38 76h1v1h-1zM48 76h1v1h-1zM621 76h1v1h-1zM20 77h2v1h-2zM25 77h1v1h-1zM27 77h1v1h-1zM31 77h1v1h-1zM33 77h1v1h-1zM37 77h1v1h-1zM39 77h1v1h-1zM48 77h1v1h-1zM621 77h1v1h-1zM19 78h1v1h-1zM21 78h1v1h-1zM24 78h1v1h-1zM28 78h1v1h-1zM30 78h1v1h-1zM34 78h1v1h-1zM36 78h1v1h-1zM40 78h1v1h-1zM48 78h1v1h-1zM621 78h1v1h-1zM18 79h1v1h-1zM21 79h1v1h-1zM24 79h1v1h-1zM28 79h1v1h-1zM30 79h1v1h-1zM34 79h1v1h-1zM36 79h1v1h-1zM40 79h1v1h-1zM48 79h5v1h-5zM617 79h5v1h-5zM18 80h1v1h-1zM21 80h1v1h-1zM24 80h1v1h-1zM28 80h1v1h-1zM30 80h1v1h-1zM34 80h1v1h-1zM36 80h1v1h-1zM40 80h1v1h-1zM48 80h1v1h-1zM621 80h1v1h-1zM18 81h5v1h-5zM24 81h1v1h-1zM28 81h1v1h-1zM30 81h1v1h-1zM34 81h1v1h-1zM36 81h1v1h-1zM40 81h1v1h-1zM48 81h1v1h-1zM621 81h1v1h-1zM21 82h1v1h-1zM25 82h1v1h-1zM27 82h1v1h-1zM31 82h1v1h-1zM33 82h1v1h-1zM37 82h1v1h-1zM39 82h1v1h-1zM48 82h1v1h-1zM621 82h1v1h-1zM21 83h1v1h-1zM26 83h1v1h-1zM32 83h1v1h-1zM38 83h1v1h-1zM48 83h1v1h-1zM621 83h1v1h-1zM48 84h1v1h-1zM621 84h1v1h-1zM48 85h1v1h-1zM621 85h1v1h-1zM48 86h1v1h-1zM621 86h1v1h-1zM48 87h1v1h-1zM621 87h1v1h-1zM48 88h1v1h-1zM621 88h1v1h-1zM48 89h1v1h-1zM621 89h1v1h-1zM48 90h1v1h-1zM621 90h1v1h-1zM48 91h1v1h-1zM621 91h1v1h-1zM48 92h1v1h-1zM621 92h1v1h-1zM48 93h1v1h-1zM621 93h1v1h-1zM48 94h1v1h-1zM621 94h1v1h-1zM48 95h1v1h-1zM621 95h1v1h-1zM48 96h1v1h-1zM621 96h1v1h-1zM48 97h1v1h-1zM621 97h1v1h-1zM48 98h1v1h-1zM621 98h1v1h-1zM48 99h1v1h-1zM621 99h1v1h-1zM48 100h1v1h-1zM621 100h1v1h-1zM48 101h1v1h-1zM621 101h1v1h-1zM48 102h1v1h-1zM621 102h1v1h-1zM48 103h1v1h-1zM621 103h1v1h-1zM48 104h1v1h-1zM621 104h1v1h-1zM48 105h1v1h-1zM621 105h1v1h-1zM48 106h1v1h-1zM621 106h1v1h-1zM48 107h1v1h-1zM621 107h1v1h-1zM48 108h1v1h-1zM621 108h1v1h-1zM48 109h1v1h-1zM621 109h1v1h-1zM48 110h1v1h-1zM621 110h1v1h-1zM48 111h1v1h-1zM621 111h1v1h-1zM48 112h1v1h-1zM621 112h1v1h-1zM48 113h1v1h-1zM621 113h1v1h-1zM48 114h1v1h-1zM621 114h1v1h-1zM48 115h1v1h-1zM621 115h1v1h-1zM48 116h1v1h-1zM621 116h1v1h-1zM48 117h1v1h-1zM621 117h1v1h-1zM48 118h1v1h-1zM621 118h1v1h-1zM48 119h1v1h-1zM621 119h1v1h-1zM48 120h1v1h-1zM621 120h1v1h-1zM48 121h1v1h-1zM621 121h1v1h-1zM48 122h1v1h-1zM621 122h1v1h-1zM48 123h1v1h-1zM621 123h1v1h-1zM48 124h1v1h-1zM621 124h1v1h-1zM48 125h1v1h-1zM621 125h1v1h-1zM48 126h1v1h-1zM621 126h1v1h-1zM48 127h1v1h-1zM621 127h1v1h-1zM48 128h1v1h-1zM621 128h1v1h-1zM48 129h1v1h-1zM621 129h1v1h-1zM48 130h1v1h-1zM621 130h1v1h-1zM48 131h1v1h-1zM621 131h1v1h-1zM48 132h1v1h-1zM621 132h1v1h-1zM48 133h1v1h-1zM621 133h1v1h-1zM48 134h1v1h-1zM621 134h1v1h-1zM48 135h1v1h-1zM621 135h1v1h-1zM48 136h1v1h-1zM621 136h1v1h-1zM48 137h1v1h-1zM621 137h1v1h-1zM48 138h1v1h-1zM621 138h1v1h-1zM48 139h1v1h-1zM621 139h1v1h-1zM48 140h1v1h-1zM621 140h1v1h-1zM48 141h1v1h-1zM621 141h1v1h-1zM48 142h1v1h-1zM621 142h1v1h-1zM48 143h1v1h-1zM621 143h1v1h-1zM48 144h1v1h-1zM621 144h1v1h-1zM48 145h1v1h-1zM621 145h1v1h-1zM48 146h1v1h-1zM621 146h1v1h-1zM48 147h1v1h-1zM621 147h1v1h-1zM48 148h1v1h-1zM621 148h1v1h-1zM48 149h1v1h-1zM621 149h1v1h-1zM48 150h1v1h-1zM621 150h1v1h-1zM48 151h1v1h-1zM621 151h1v1h-1zM48 152h1v1h-1zM621 152h1v1h-1zM48 153h1v1h-1zM621 153h1v1h-1zM48 154h1v1h-1zM621 154h1v1h-1zM48 155h1v1h-1zM621 155h1v1h-1zM48 156h1v1h-1zM621 156h1v1h-1zM48 157h1v1h-1zM621 157h1v1h-1zM48 158h1v1h-1zM621 158h1v1h-1zM19 159h3v1h-3zM26 159h1v1h-1zM32 159h1v1h-1zM38 159h1v1h-1zM48 159h1v1h-1zM621 159h1v1h-1zM18 160h1v1h-1zM22 160h1v1h-1zM25 160h1v1h-1zM27 160h1v1h-1zM31 160h1v1h-1zM33 160h1v1h-1zM37 160h1v1h-1zM39 160h1v1h-1zM48 160h1v1h-1zM621 160h1v1h-1zM22 161h1v1h-1zM24 161h1v1h-1zM28 161h1v1h-1zM30 161h1v1h-1zM34 161h1v1h-1zM36 161h1v1h-1zM40 161h1v1h-1zM48 161h1v1h-1zM621 161h1v1h-1zM21 162h1v1h-1zM24 162h1v1h-1zM28 162h1v1h-1zM30 162h1v1h-1zM34 162h1v1h-1zM36 162h1v1h-1zM40 162h1v1h-1zM48 162h5v1h-5zM617 162h5v1h-5zM20 163h1v1h-1zM24 163h1v1h-1zM28 163h1v1h-1zM30 163h1v1h-1zM34 163h1v1h-1zM36 163h1v1h-1zM40 163h1v1h-1zM48 163h1v1h-1zM621 163h1v1h-1zM19 164h1v1h-1zM24 164h1v1h-1zM28 164h1v1h-1zM30 164h1v1h-1zM34 164h1v1h-1zM36 164h1v1h-1zM40 164h1v1h-1zM48 164h1v1h-1zM621 164h1v1h-1zM18 165h1v1h-1zM25 165h1v1h-1zM27 165h1v1h-1zM31 165h1v1h-1zM33 165h1v1h-1zM37 165h1v1h-1zM39 165h1v1h-1zM48 165h1v1h-1zM621 165h1v1h-1zM18 166h5v1h-5zM26 166h1v1h-1zM32 166h1v1h-1zM38 166h1v1h-1zM48 166h1v1h-1zM621 166h1v1h-1zM48 167h1v1h-1zM621 167h1v1h-1zM48 168h1v1h-1zM621 168h1v1h-1zM48 169h1v1h-1zM621 169h1v1h-1zM48 170h1v1h-1zM621 170h1v1h-1zM48 171h1v1h-1zM621 171h1v1h-1zM48 172h1v1h-1zM621 172h1v1h-1zM48 173h1v1h-1zM621 173h1v1h-1zM48 174h1v1h-1zM621 174h1v1h-1zM48 175h1v1h-1zM621 175h1v1h-1zM48 176h1v1h-1zM621 176h1v1h-1zM48 177h1v1h-1zM621 177h1v1h-1zM48 178h1v1h-1zM621 178h1v1h-1zM48 179h1v1h-1zM621 179h1v1h-1zM48 180h1v1h-1zM621 180h1v1h-1zM48 181h1v1h-1zM621 181h1v1h-1zM48 182h1v1h-1zM621 182h1v1h-1zM48 183h1v1h-1zM621 183h1v1h-1zM48 184h1v1h-1zM621 184h1v1h-1zM48 185h1v1h-1zM621 185h1v1h-1zM48 186h1v1h-1zM621 186h1v1h-1zM48 187h1v1h-1zM621 187h1v1h-1zM48 188h1v1h-1zM621 188h1v1h-1zM48 189h1v1h-1zM621 189h1v1h-1zM48 190h1v1h-1zM621 190h1v1h-1zM48 191h1v1h-1zM621 191h1v1h-1zM48 192h1v1h-1zM621 192h1v1h-1zM48 193h1v1h-1zM621 193h1v1h-1zM48 194h1v1h-1zM621 194h1v1h-1zM48 195h1v1h-1zM621 195h1v1h-1zM48 196h1v1h-1zM621 196h1v1h-1zM48 197h1v1h-1zM621 197h1v1h-1zM48 198h1v1h-1zM621 198h1v1h-1zM48 199h1v1h-1zM621 199h1v1h-1zM48 200h1v1h-1zM621 200h1v1h-1zM48 201h1v1h-1zM621 201h1v1h-1zM48 202h1v1h-1zM621 202h1v1h-1zM48 203h1v1h-1zM621 203h1v1h-1zM48 204h1v1h-1zM621 204h1v1h-1zM48 205h1v1h-1zM621 205h1v1h-1zM48 206h1v1h-1zM621 206h1v1h-1zM48 207h1v1h-1zM621 207h1v1h-1zM48 208h1v1h-1zM621 208h1v1h-1zM48 209h1v1h-1zM621 209h1v1h-1zM48 210h1v1h-1zM621 210h1v1h-1zM48 211h1v1h-1zM621 211h1v1h-1zM48 212h1v1h-1zM621 212h1v1h-1zM48 213h1v1h-1zM621 213h1v1h-1zM48 214h1v1h-1zM621 214h1v1h-1zM48 215h1v1h-1zM621 215h1v1h-1zM48 216h1v1h-1zM621 216h1v1h-1zM48 217h1v1h-1zM621 217h1v1h-1zM48 218h1v1h-1zM621 218h1v1h-1zM48 219h1v1h-1zM621 219h1v1h-1zM48 220h1v1h-1zM621 220h1v1h-1zM48 221h1v1h-1zM621 221h1v1h-1zM48 222h1v1h-1zM621 222h1v1h-1zM48 223h1v1h-1zM621 223h1v1h-1zM48 224h1v1h-1zM621 224h1v1h-1zM48 225h1v1h-1zM621 225h1v1h-1zM48 226h1v1h-1zM621 226h1v1h-1zM48 227h1v1h-1zM621 227h1v1h-1zM48 228h1v1h-1zM621 228h1v1h-1zM48 229h1v1h-1zM621 229h1v1h-1zM48 230h1v1h-1zM621 230h1v1h-1zM48 231h1v1h-1zM621 231h1v1h-1zM48 232h1v1h-1zM621 232h1v1h-1zM48 233h1v1h-1zM621 233h1v1h-1zM48 234h1v1h-1zM621 234h1v1h-1zM48 235h1v1h-1zM621 235h1v1h-1zM48 236h1v1h-1zM621 236h1v1h-1zM48 237h1v1h-1zM621 237h1v1h-1zM48 238h1v1h-1zM621 238h1v1h-1zM48 239h1v1h-1zM621 239h1v1h-1zM48 240h1v1h-1zM621 240h1v1h-1zM48 241h1v1h-1zM621 241h1v1h-1zM38 242h1v1h-1zM48 242h1v1h-1zM621 242h1v1h-1zM37 243h1v1h-1zM39 243h1v1h-1zM48 243h1v1h-1zM621 243h1v1h-1zM36 244h1v1h-1zM40 244h1v1h-1zM48 244h1v1h-1zM621 244h1v1h-1zM36 245h1v1h-1zM40 245h1v1h-1zM48 245h5v1h-5zM617 245h5v1h-5zM36 246h1v1h-1zM40 246h1v1h-1zM48 246h1v1h-1zM621 246h1v1h-1zM36 247h1v1h-1zM40 247h1v1h-1zM48 247h1v1h-1zM621 247h1v1h-1zM37 248h1v1h-1zM39 248h1v1h-1zM48 248h1v1h-1zM621 248h1v1h-1zM38 249h1v1h-1zM48 249h1v1h-1zM621 249h1v1h-1zM48 250h1v1h-1zM621 250h1v1h-1zM48 251h1v1h-1zM621 251h1v1h-1zM48 252h1v1h-1zM621 252h1v1h-1zM48 253h1v1h-1zM621 253h1v1h-1zM48 254h1v1h-1zM621 254h1v1h-1zM48 255h1v1h-1zM621 255h1v1h-1zM48 256h1v1h-1zM621 256h1v1h-1zM48 257h1v1h-1zM621 257h1v1h-1zM48 258h1v1h-1zM621 258h1v1h-1zM48 259h1v1h-1zM621 259h1v1h-1zM48 260h1v1h-1zM621 260h1v1h-1zM48 261h1v1h-1zM621 261h1v1h-1zM48 262h1v1h-1zM621 262h1v1h-1zM48 263h1v1h-1zM621 263h1v1h-1zM48 264h1v1h-1zM621 264h1v1h-1zM48 265h1v1h-1zM621 265h1v1h-1zM48 266h1v1h-1zM621 266h1v1h-1zM48 267h1v1h-1zM621 267h1v1h-1zM48 268h1v1h-1zM621 268h1v1h-1zM48 269h1v1h-1zM621 269h1v1h-1zM48 270h1v1h-1zM621 270h1v1h-1zM48 271h1v1h-1zM621 271h1v1h-1zM48 272h1v1h-1zM621 272h1v1h-1zM48 273h1v1h-1zM621 273h1v1h-1zM48 274h1v1h-1zM621 274h1v1h-1zM48 275h1v1h-1zM621 275h1v1h-1zM48 276h1v1h-1zM621 276h1v1h-1zM48 277h1v1h-1zM621 277h1v1h-1zM48 278h1v1h-1zM621 278h1v1h-1zM48 279h1v1h-1zM621 279h1v1h-1zM48 280h1v1h-1zM621 280h1v1h-1zM48 281h1v1h-1zM621 281h1v1h-1zM48 282h1v1h-1zM621 282h1v1h-1zM48 283h1v1h-1zM621 283h1v1h-1zM48 284h1v1h-1zM621 284h1v1h-1zM48 285h1v1h-1zM621 285h1v1h-1zM48 286h1v1h-1zM621 286h1v1h-1zM48 287h1v1h-1zM621 287h1v1h-1zM48 288h1v1h-1zM621 288h1v1h-1zM48 289h1v1h-1zM621 289h1v1h-1zM48 290h1v1h-1zM621 290h1v1h-1zM48 291h1v1h-1zM621 291h1v1h-1zM48 292h1v1h-1zM621 292h1v1h-1zM48 293h1v1h-1zM621 293h1v1h-1zM48 294h1v1h-1zM621 294h1v1h-1zM48 295h1v1h-1zM621 295h1v1h-1zM48 296h1v1h-1zM621 296h1v1h-1zM48 297h1v1h-1zM621 297h1v1h-1zM48 298h1v1h-1zM621 298h1v1h-1zM48 299h1v1h-1zM621 299h1v1h-1zM48 300h1v1h-1zM621 300h1v1h-1zM48 301h1v1h-1zM621 301h1v1h-1zM48 302h1v1h-1zM621 302h1v1h-1zM48 303h1v1h-1zM621 303h1v1h-1zM48 304h1v1h-1zM621 304h1v1h-1zM48 305h1v1h-1zM621 305h1v1h-1zM48 306h1v1h-1zM621 306h1v1h-1zM48 307h1v1h-1zM621 307h1v1h-1zM48 308h1v1h-1zM621 308h1v1h-1zM48 309h1v1h-1zM621 309h1v1h-1zM48 310h1v1h-1zM621 310h1v1h-1zM48 311h1v1h-1zM621 311h1v1h-1zM48 312h1v1h-1zM621 312h1v1h-1zM48 313h1v1h-1zM621 313h1v1h-1zM48 314h1v1h-1zM621 314h1v1h-1zM48 315h1v1h-1zM621 315h1v1h-1zM48 316h1v1h-1zM621 316h1v1h-1zM48 317h1v1h-1zM621 317h1v1h-1zM48 318h1v1h-1zM621 318h1v1h-1zM48 319h1v1h-1zM621 319h1v1h-1zM48 320h1v1h-1zM621 320h1v1h-1zM48 321h1v1h-1zM621 321h1v1h-1zM48 322h1v1h-1zM621 322h1v1h-1zM48 323h1v1h-1zM621 323h1v1h-1zM48 324h1v1h-1zM621 324h1v1h-1zM19 325h3v1h-3zM26 325h1v1h-1zM32 325h1v1h-1zM38 325h1v1h-1zM48 325h1v1h-1zM621 325h1v1h-1zM18 326h1v1h-1zM22 326h1v1h-1zM25 326h1v1h-1zM27 326h1v1h-1zM31 326h1v1h-1zM33 326h1v1h-1zM37 326h1v1h-1zM39 326h1v1h-1zM48 326h1v1h-1zM621 326h1v1h-1zM22 327h1v1h-1zM24 327h1v1h-1zM28 327h1v1h-1zM30 327h1v1h-1zM34 327h1v1h-1zM36 327h1v1h-1zM40 327h1v1h-1zM48 327h1v1h-1zM621 327h1v1h-1zM21 328h1v1h-1zM24 328h1v1h-1zM28 328h1v1h-1zM30 328h1v1h-1zM34 328h1v1h-1zM36 328h1v1h-1zM40 328h1v1h-1zM48 328h5v1h-5zM617 328h5v1h-5zM12 329h5v1h-5zM20 329h1v1h-1zM24 329h1v1h-1zM28 329h1v1h-1zM30 329h1v1h-1zM34 329h1v1h-1zM36 329h1v1h-1zM40 329h1v1h-1zM48 329h1v1h-1zM621 329h1v1h-1zM19 330h1v1h-1zM24 330h1v1h-1zM28 330h1v1h-1zM30 330h1v1h-1zM34 330h1v1h-1zM36 330h1v1h-1zM40 330h1v1h-1zM48 330h1v1h-1zM621 330h1v1h-1zM18 331h1v1h-1zM25 331h1v1h-1zM27 331h1v1h-1zM31 331h1v1h-1zM33 331h1v1h-1zM37 331h1v1h-1zM39 331h1v1h-1zM48 331h1v1h-1zM621 331h1v1h-1zM18 332h5v1h-5zM26 332h1v1h-1zM32 332h1v1h-1zM38 332h1v1h-1zM48 332h1v1h-1zM621 332h1v1h-1zM48 333h1v1h-1zM621 333h1v1h-1zM48 334h1v1h-1zM621 334h1v1h-1zM48 335h1v1h-1zM621 335h1v1h-1zM48 336h1v1h-1zM621 336h1v1h-1zM48 337h1v1h-1zM621 337h1v1h-1zM48 338h1v1h-1zM621 338h1v1h-1zM48 339h1v1h-1zM621 339h1v1h-1zM48 340h1v1h-1zM621 340h1v1h-1zM48 341h1v1h-1zM621 341h1v1h-1zM48 342h1v1h-1zM621 342h1v1h-1zM48 343h1v1h-1zM621 343h1v1h-1zM48 344h1v1h-1zM621 344h1v1h-1zM48 345h1v1h-1zM621 345h1v1h-1zM48 346h1v1h-1zM621 346h1v1h-1zM48 347h1v1h-1zM621 347h1v1h-1zM48 348h1v1h-1zM621 348h1v1h-1zM48 349h1v1h-1zM621 349h1v1h-1zM48 350h1v1h-1zM621 350h1v1h-1zM48 351h1v1h-1zM621 351h1v1h-1zM48 352h1v1h-1zM621 352h1v1h-1zM48 353h1v1h-1zM621 353h1v1h-1zM48 354h1v1h-1zM621 354h1v1h-1zM48 355h1v1h-1zM621 355h1v1h-1zM48 356h1v1h-1zM621 356h1v1h-1zM48 357h1v1h-1zM621 357h1v1h-1zM48 358h1v1h-1zM621 358h1v1h-1zM48 359h1v1h-1zM621 359h1v1h-1zM48 360h1v1h-1zM621 360h1v1h-1zM48 361h1v1h-1zM621 361h1v1h-1zM48 362h1v1h-1zM621 362h1v1h-1zM48 363h1v1h-1zM621 363h1v1h-1zM48 364h1v1h-1zM621 364h1v1h-1zM48 365h1v1h-1zM621 365h1v1h-1zM48 366h1v1h-1zM621 366h1v1h-1zM48 367h1v1h-1zM621 367h1v1h-1zM48 368h1v1h-1zM621 368h1v1h-1zM48 369h1v1h-1zM621 369h1v1h-1zM48 370h1v1h-1zM621 370h1v1h-1zM48 371h1v1h-1zM621 371h1v1h-1zM48 372h1v1h-1zM621 372h1v1h-1zM48 373h1v1h-1zM621 373h1v1h-1zM48 374h1v1h-1zM621 374h1v1h-1zM48 375h1v1h-1zM621 375h1v1h-1zM48 376h1v1h-1zM621 376h1v1h-1zM48 377h1v1h-1zM621 377h1v1h-1zM48 378h1v1h-1zM621 378h1v1h-1zM48 379h1v1h-1zM621 379h1v1h-1zM48 380h1v1h-1zM621 380h1v1h-1zM48 381h1v1h-1zM621 381h1v1h-1zM48 382h1v1h-1zM621 382h1v1h-1zM48 383h1v1h-1zM621 383h1v1h-1zM48 384h1v1h-1zM621 384h1v1h-1zM48 385h1v1h-1zM621 385h1v1h-1zM48 386h1v1h-1zM621 386h1v1h-1zM48 387h1v1h-1zM621 387h1v1h-1zM48 388h1v1h-1zM621 388h1v1h-1zM48 389h1v1h-1zM621 389h1v1h-1zM48 390h1v1h-1zM621 390h1v1h-1zM48 391h1v1h-1zM621 391h1v1h-1zM48 392h1v1h-1zM621 392h1v1h-1zM48 393h1v1h-1zM621 393h1v1h-1zM48 394h1v1h-1zM621 394h1v1h-1zM48 395h1v1h-1zM621 395h1v1h-1zM48 396h1v1h-1zM621 396h1v1h-1zM48 397h1v1h-1zM621 397h1v1h-1zM48 398h1v1h-1zM621 398h1v1h-1zM48 399h1v1h-1zM621 399h1v1h-1zM48 400h1v1h-1zM621 400h1v1h-1zM48 401h1v1h-1zM621 401h1v1h-1zM48 402h1v1h-1zM621 402h1v1h-1zM48 403h1v1h-1zM621 403h1v1h-1zM48 404h1v1h-1zM621 404h1v1h-1zM48 405h1v1h-1zM621 405h1v1h-1zM48 406h1v1h-1zM621 406h1v1h-1zM48 407h1v1h-1zM621 407h1v1h-1zM21 408h1v1h-1zM26 408h1v1h-1zM32 408h1v1h-1zM38 408h1v1h-1zM48 408h1v1h-1zM621 408h1v1h-1zM20 409h2v1h-2zM25 409h1v1h-1zM27 409h1v1h-1zM31 409h1v1h-1zM33 409h1v1h-1zM37 409h1v1h-1zM39 409h1v1h-1zM48 409h1v1h-1zM621 409h1v1h-1zM19 410h1v1h-1zM21 410h1v1h-1zM24 410h1v1h-1zM28 410h1v1h-1zM30 410h1v1h-1zM34 410h1v1h-1zM36 410h1v1h-1zM40 410h1v1h-1zM48 410h1v1h-1zM621 410h1v1h-1zM18 411h1v1h-1zM21 411h1v1h-1zM24 411h1v1h-1zM28 411h1v1h-1zM30 411h1v1h-1zM34 411h1v1h-1zM36 411h1v1h-1zM40 411h1v1h-1zM48 411h5v1h-5zM617 411h5v1h-5zM12 412h5v1h-5zM18 412h1v1h-1zM21 412h1v1h-1zM24 412h1v1h-1zM28 412h1v1h-1zM30 412h1v1h-1zM34 412h1v1h-1zM36 412h1v1h-1zM40 412h1v1h-1zM48 412h1v1h-1zM621 412h1v1h-1zM18 413h5v1h-5zM24 413h1v1h-1zM28 413h1v1h-1zM30 413h1v1h-1zM34 413h1v1h-1zM36 413h1v1h-1zM40 413h1v1h-1zM48 413h1v1h-1zM621 413h1v1h-1zM21 414h1v1h-1zM25 414h1v1h-1zM27 414h1v1h-1zM31 414h1v1h-1zM33 414h1v1h-1zM37 414h1v1h-1zM39 414h1v1h-1zM48 414h1v1h-1zM621 414h1v1h-1zM21 415h1v1h-1zM26 415h1v1h-1zM32 415h1v1h-1zM38 415h1v1h-1zM48 415h1v1h-1zM621 415h1v1h-1zM48 416h1v1h-1zM621 416h1v1h-1zM48 417h1v1h-1zM621 417h1v1h-1zM48 418h1v1h-1zM621 418h1v1h-1zM48 419h1v1h-1zM621 419h1v1h-1zM48 420h1v1h-1zM621 420h1v1h-1zM48 421h1v1h-1zM621 421h1v1h-1zM48 422h1v1h-1zM621 422h1v1h-1zM48 423h1v1h-1zM621 423h1v1h-1zM48 424h1v1h-1zM621 424h1v1h-1zM48 425h1v1h-1zM621 425h1v1h-1zM48 426h1v1h-1zM621 426h1v1h-1zM48 427h1v1h-1zM621 427h1v1h-1zM48 428h1v1h-1zM621 428h1v1h-1zM48 429h1v1h-1zM621 429h1v1h-1zM48 430h1v1h-1zM621 430h1v1h-1zM48 431h1v1h-1zM621 431h1v1h-1zM48 432h1v1h-1zM621 432h1v1h-1zM48 433h1v1h-1zM621 433h1v1h-1zM48 434h1v1h-1zM621 434h1v1h-1zM48 435h1v1h-1zM621 435h1v1h-1zM48 436h1v1h-1zM621 436h1v1h-1zM48 437h1v1h-1zM621 437h1v1h-1zM48 438h1v1h-1zM621 438h1v1h-1zM48 439h1v1h-1zM621 439h1v1h-1zM48 440h1v1h-1zM621 440h1v1h-1zM48 441h1v1h-1zM621 441h1v1h-1zM48 442h1v1h-1zM621 442h1v1h-1zM48 443h1v1h-1zM621 443h1v1h-1zM48 444h1v1h-1zM621 444h1v1h-1zM48 445h1v1h-1zM621 445h1v1h-1zM48 446h1v1h-1zM621 446h1v1h-1zM48 447h1v1h-1zM621 447h1v1h-1zM48 448h1v1h-1zM621 448h1v1h-1zM48 449h1v1h-1zM154 449h1v1h-1zM260 449h1v1h-1zM366 449h1v1h-1zM472 449h1v1h-1zM579 449h1v1h-1zM621 449h1v1h-1zM48 450h1v1h-1zM154 450h1v1h-1zM260 450h1v1h-1zM366 450h1v1h-1zM472 450h1v1h-1zM579 450h1v1h-1zM621 450h1v1h-1zM48 451h1v1h-1zM154 451h1v1h-1zM260 451h1v1h-1zM366 451h1v1h-1zM472 451h1v1h-1zM579 451h1v1h-1zM621 451h1v1h-1zM48 452h1v1h-1zM154 452h1v1h-1zM260 452h1v1h-1zM366 452h1v1h-1zM472 452h1v1h-1zM579 452h1v1h-1zM621 452h1v1h-1zM48 453h574v1h-574zM50 463h1v1h-1zM150 463h1v1h-1zM156 463h1v1h-1zM162 463h1v1h-1zM255 463h3v1h-3zM262 463h1v1h-1zM268 463h1v1h-1zM361 463h3v1h-3zM368 463h1v1h-1zM374 463h1v1h-1zM469 463h1v1h-1zM474 463h1v1h-1zM480 463h1v1h-1zM573 463h5v1h-5zM581 463h1v1h-1zM587 463h1v1h-1zM49 464h1v1h-1zM51 464h1v1h-1zM149 464h2v1h-2zM155 464h1v1h-1zM157 464h1v1h-1zM161 464h1v1h-1zM163 464h1v1h-1zM254 464h1v1h-1zM258 464h1v1h-1zM261 464h1v1h-1zM263 464h1v1h-1zM267 464h1v1h-1zM269 464h1v1h-1zM360 464h1v1h-1zM364 464h1v1h-1zM367 464h1v1h-1zM369 464h1v1h-1zM373 464h1v1h-1zM375 464h1v1h-1zM468 464h2v1h-2zM473 464h1v1h-1zM475 464h1v1h-1zM479 464h1v1h-1zM481 464h1v1h-1zM573 464h1v1h-1zM580 464h1v1h-1zM582 464h1v1h-1zM586 464h1v1h-1zM588 464h1v1h-1zM48 465h1v1h-1zM52 465h1v1h-1zM148 465h1v1h-1zM150 465h1v1h-1zM154 465h1v1h-1zM158 465h1v1h-1zM160 465h1v1h-1zM164 465h1v1h-1zM258 465h1v1h-1zM260 465h1v1h-1zM264 465h1v1h-1zM266 465h1v1h-1zM270 465h1v1h-1zM364 465h1v1h-1zM366 465h1v1h-1zM370 465h1v1h-1zM372 465h1v1h-1zM376 465h1v1h-1zM467 465h1v1h-1zM469 465h1v1h-1zM472 465h1v1h-1zM476 465h1v1h-1zM478 465h1v1h-1zM482 465h1v1h-1zM573 465h4v1h-4zM579 465h1v1h-1zM583 465h1v1h-1zM585 465h1v1h-1zM589 465h1v1h-1zM48 466h1v1h-1zM52 466h1v1h-1zM150 466h1v1h-1zM154 466h1v1h-1zM158 466h1v1h-1zM160 466h1v1h-1zM164 466h1v1h-1zM257 466h1v1h-1zM260 466h1v1h-1zM264 466h1v1h-1zM266 466h1v1h-1zM270 466h1v1h-1zM362 466h2v1h-2zM366 466h1v1h-1zM370 466h1v1h-1zM372 466h1v1h-1zM376 466h1v1h-1zM466 466h1v1h-1zM469 466h1v1h-1zM472 466h1v1h-1zM476 466h1v1h-1zM478 466h1v1h-1zM482 466h1v1h-1zM573 466h1v1h-1zM577 466h1v1h-1zM579 466h1v1h-1zM583 466h1v1h-1zM585 466h1v1h-1zM589 466h1v1h-1zM48 467h1v1h-1zM52 467h1v1h-1zM150 467h1v1h-1zM154 467h1v1h-1zM158 467h1v1h-1zM160 467h1v1h-1zM164 467h1v1h-1zM256 467h1v1h-1zM260 467h1v1h-1zM264 467h1v1h-1zM266 467h1v1h-1zM270 467h1v1h-1zM364 467h1v1h-1zM366 467h1v1h-1zM370 467h1v1h-1zM372 467h1v1h-1zM376 467h1v1h-1zM466 467h1v1h-1zM469 467h1v1h-1zM472 467h1v1h-1zM476 467h1v1h-1zM478 467h1v1h-1zM482 467h1v1h-1zM577 467h1v1h-1zM579 467h1v1h-1zM583 467h1v1h-1zM585 467h1v1h-1zM589 467h1v1h-1zM48 468h1v1h-1zM52 468h1v1h-1zM150 468h1v1h-1zM154 468h1v1h-1zM158 468h1v1h-1zM160 468h1v1h-1zM164 468h1v1h-1zM255 468h1v1h-1zM260 468h1v1h-1zM264 468h1v1h-1zM266 468h1v1h-1zM270 468h1v1h-1zM364 468h1v1h-1zM366 468h1v1h-1zM370 468h1v1h-1zM372 468h1v1h-1zM376 468h1v1h-1zM466 468h5v1h-5zM472 468h1v1h-1zM476 468h1v1h-1zM478 468h1v1h-1zM482 468h1v1h-1zM577 468h1v1h-1zM579 468h1v1h-1zM583 468h1v1h-1zM585 468h1v1h-1zM589 468h1v1h-1zM49 469h1v1h-1zM51 469h1v1h-1zM150 469h1v1h-1zM155 469h1v1h-1zM157 469h1v1h-1zM161 469h1v1h-1zM163 469h1v1h-1zM254 469h1v1h-1zM261 469h1v1h-1zM263 469h1v1h-1zM267 469h1v1h-1zM269 469h1v1h-1zM360 469h1v1h-1zM364 469h1v1h-1zM367 469h1v1h-1zM369 469h1v1h-1zM373 469h1v1h-1zM375 469h1v1h-1zM469 469h1v1h-1zM473 469h1v1h-1zM475 469h1v1h-1zM479 469h1v1h-1zM481 469h1v1h-1zM573 469h1v1h-1zM577 469h1v1h-1zM580 469h1v1h-1zM582 469h1v1h-1zM586 469h1v1h-1zM588 469h1v1h-1zM50 470h1v1h-1zM148 470h5v1h-5zM156 470h1v1h-1zM162 470h1v1h-1zM254 470h5v1h-5zM262 470h1v1h-1zM268 470h1v1h-1zM361 470h3v1h-3zM368 470h1v1h-1zM374 470h1v1h-1zM469 470h1v1h-1zM474 470h1v1h-1zM480 470h1v1h-1zM574 470h3v1h-3zM581 470h1v1h-1zM587 470h1v1h-1z"/>
<path fill="#f00" d="M581 48h29v1h-29zM358 203h1v1h-1zM358 204h1v1h-1zM358 205h1v1h-1zM358 206h2v1h-2zM358 207h2v1h-2zM358 208h2v1h-2zM357 209h1v1h-1zM359 209h1v1h-1zM357 210h1v1h-1zM359 210h1v1h-1zM357 211h1v1h-1zM359 211h1v1h-1zM357 212h1v1h-1zM360 212h1v1h-1zM357 213h1v1h-1zM360 213h1v1h-1zM357 214h1v1h-1zM360 214h1v1h-1zM446 214h1v1h-1zM357 215h1v1h-1zM360 215h1v1h-1zM446 215h1v1h-1zM357 216h1v1h-1zM360 216h1v1h-1zM446 216h1v1h-1zM357 217h1v1h-1zM360 217h1v1h-1zM446 217h1v1h-1zM475 217h1v1h-1zM504 217h1v1h-1zM356 218h1v1h-1zM360 218h1v1h-1zM446 218h2v1h-2zM475 218h1v1h-1zM504 218h1v1h-1zM356 219h1v1h-1zM360 219h1v1h-1zM446 219h2v1h-2zM475 219h1v1h-1zM504 219h1v1h-1zM356 220h1v1h-1zM361 220h1v1h-1zM445 220h1v1h-1zM447 220h1v1h-1zM475 220h2v1h-2zM503 220h2v1h-2zM356 221h1v1h-1zM361 221h1v1h-1zM402 221h1v1h-1zM445 221h1v1h-1zM447 221h1v1h-1zM474 221h1v1h-1zM476 221h1v1h-1zM503 221h1v1h-1zM505 221h1v1h-1zM517 221h1v1h-1zM255 222h1v1h-1zM333 222h1v1h-1zM349 222h1v1h-1zM356 222h1v1h-1zM361 222h1v1h-1zM401 222h2v1h-2zM445 222h1v1h-1zM447 222h1v1h-1zM474 222h1v1h-1zM476 222h1v1h-1zM503 222h1v1h-1zM505 222h1v1h-1zM517 222h1v1h-1zM254 223h2v1h-2zM333 223h3v1h-3zM349 223h1v1h-1zM355 223h1v1h-1zM361 223h1v1h-1zM401 223h2v1h-2zM445 223h1v1h-1zM447 223h1v1h-1zM474 223h1v1h-1zM477 223h1v1h-1zM503 223h1v1h-1zM505 223h1v1h-1zM517 223h1v1h-1zM254 224h1v1h-1zM256 224h1v1h-1zM333 224h1v1h-1zM335 224h1v1h-1zM349 224h1v1h-1zM355 224h1v1h-1zM361 224h1v1h-1zM400 224h1v1h-1zM402 224h1v1h-1zM445 224h1v1h-1zM448 224h1v1h-1zM474 224h1v1h-1zM477 224h1v1h-1zM503 224h1v1h-1zM505 224h1v1h-1zM516 224h2v1h-2zM253 225h1v1h-1zM256 225h1v1h-1zM333 225h1v1h-1zM335 225h1v1h-1zM348 225h1v1h-1zM350 225h1v1h-1zM355 225h1v1h-1zM361 225h1v1h-1zM400 225h1v1h-1zM403 225h1v1h-1zM445 225h1v1h-1zM448 225h1v1h-1zM467 225h1v1h-1zM469 225h1v1h-1zM474 225h1v1h-1zM478 225h1v1h-1zM503 225h1v1h-1zM505 225h1v1h-1zM516 225h1v1h-1zM518 225h1v1h-1zM253 226h1v1h-1zM256 226h1v1h-1zM332 226h1v1h-1zM336 226h1v1h-1zM348 226h1v1h-1zM350 226h1v1h-1zM355 226h1v1h-1zM362 226h1v1h-1zM400 226h1v1h-1zM403 226h1v1h-1zM445 226h1v1h-1zM448 226h1v1h-1zM461 226h1v1h-1zM467 226h3v1h-3zM473 226h1v1h-1zM478 226h1v1h-1zM502 226h1v1h-1zM506 226h1v1h-1zM516 226h1v1h-1zM518 226h1v1h-1zM253 227h1v1h-1zM257 227h1v1h-1zM332 227h1v1h-1zM336 227h1v1h-1zM348 227h1v1h-1zM351 227h4v1h-4zM362 227h1v1h-1zM398 227h2v1h-2zM403 227h1v1h-1zM445 227h1v1h-1zM448 227h1v1h-1zM455 227h1v1h-1zM461 227h1v1h-1zM466 227h1v1h-1zM469 227h1v1h-1zM472 227h2v1h-2zM478 227h1v1h-1zM502 227h1v1h-1zM506 227h1v1h-1zM516 227h1v1h-1zM518 227h1v1h-1zM241 228h1v1h-1zM253 228h1v1h-1zM257 228h1v1h-1zM329 228h1v1h-1zM332 228h1v1h-1zM336 228h1v1h-1zM347 228h1v1h-1zM353 228h2v1h-2zM362 228h1v1h-1zM397 228h1v1h-1zM399 228h1v1h-1zM403 228h1v1h-1zM445 228h1v1h-1zM449 228h1v1h-1zM454 228h2v1h-2zM461 228h2v1h-2zM466 228h1v1h-1zM469 228h1v1h-1zM471 228h1v1h-1zM479 228h2v1h-2zM502 228h1v1h-1zM506 228h1v1h-1zM515 228h1v1h-1zM518 228h1v1h-1zM241 229h1v1h-1zM249 229h1v1h-1zM252 229h1v1h-1zM257 229h1v1h-1zM328 229h1v1h-1zM330 229h1v1h-1zM332 229h1v1h-1zM337 229h1v1h-1zM347 229h1v1h-1zM354 229h1v1h-1zM362 229h1v1h-1zM397 229h1v1h-1zM403 229h1v1h-1zM444 229h1v1h-1zM449 229h1v1h-1zM454 229h2v1h-2zM461 229h1v1h-1zM463 229h1v1h-1zM466 229h1v1h-1zM470 229h2v1h-2zM479 229h2v1h-2zM502 229h1v1h-1zM506 229h1v1h-1zM509 229h1v1h-1zM515 229h1v1h-1zM519 229h1v1h-1zM240 230h1v1h-1zM242 230h1v1h-1zM248 230h2v1h-2zM252 230h1v1h-1zM257 230h1v1h-1zM269 230h1v1h-1zM328 230h1v1h-1zM330 230h1v1h-1zM332 230h1v1h-1zM338 230h1v1h-1zM347 230h1v1h-1zM363 230h1v1h-1zM377 230h1v1h-1zM397 230h1v1h-1zM404 230h1v1h-1zM444 230h1v1h-1zM449 230h1v1h-1zM451 230h1v1h-1zM454 230h1v1h-1zM456 230h1v1h-1zM464 230h2v1h-2zM470 230h1v1h-1zM481 230h1v1h-1zM502 230h1v1h-1zM506 230h1v1h-1zM508 230h2v1h-2zM515 230h1v1h-1zM520 230h1v1h-1zM534 230h1v1h-1zM240 231h1v1h-1zM242 231h1v1h-1zM246 231h2v1h-2zM250 231h1v1h-1zM252 231h1v1h-1zM258 231h1v1h-1zM268 231h2v1h-2zM272 231h1v1h-1zM328 231h1v1h-1zM330 231h2v1h-2zM338 231h1v1h-1zM346 231h1v1h-1zM363 231h1v1h-1zM376 231h2v1h-2zM390 231h3v1h-3zM396 231h1v1h-1zM404 231h1v1h-1zM444 231h1v1h-1zM450 231h2v1h-2zM453 231h1v1h-1zM456 231h1v1h-1zM465 231h1v1h-1zM470 231h1v1h-1zM481 231h1v1h-1zM494 231h1v1h-1zM502 231h1v1h-1zM507 231h1v1h-1zM509 231h1v1h-1zM513 231h2v1h-2zM521 231h1v1h-1zM527 231h1v1h-1zM534 231h1v1h-1zM240 232h1v1h-1zM242 232h1v1h-1zM245 232h1v1h-1zM247 232h1v1h-1zM250 232h1v1h-1zM252 232h1v1h-1zM258 232h1v1h-1zM268 232h1v1h-1zM270 232h3v1h-3zM275 232h1v1h-1zM305 232h1v1h-1zM327 232h1v1h-1zM331 232h1v1h-1zM339 232h1v1h-1zM345 232h2v1h-2zM364 232h1v1h-1zM375 232h1v1h-1zM377 232h1v1h-1zM389 232h1v1h-1zM392 232h1v1h-1zM396 232h1v1h-1zM404 232h1v1h-1zM442 232h1v1h-1zM444 232h1v1h-1zM450 232h1v1h-1zM452 232h2v1h-2zM456 232h1v1h-1zM460 232h1v1h-1zM481 232h1v1h-1zM494 232h1v1h-1zM502 232h1v1h-1zM507 232h1v1h-1zM510 232h2v1h-2zM513 232h2v1h-2zM521 232h1v1h-1zM526 232h2v1h-2zM534 232h1v1h-1zM240 233h1v1h-1zM242 233h1v1h-1zM244 233h1v1h-1zM251 233h1v1h-1zM258 233h1v1h-1zM262 233h1v1h-1zM267 233h1v1h-1zM270 233h1v1h-1zM273 233h2v1h-2zM276 233h2v1h-2zM305 233h1v1h-1zM327 233h1v1h-1zM331 233h1v1h-1zM339 233h1v1h-1zM345 233h1v1h-1zM365 233h1v1h-1zM375 233h1v1h-1zM378 233h1v1h-1zM389 233h1v1h-1zM393 233h2v1h-2zM396 233h1v1h-1zM405 233h1v1h-1zM442 233h1v1h-1zM444 233h1v1h-1zM456 233h1v1h-1zM460 233h1v1h-1zM482 233h2v1h-2zM493 233h1v1h-1zM495 233h1v1h-1zM502 233h1v1h-1zM510 233h3v1h-3zM522 233h2v1h-2zM526 233h1v1h-1zM528 233h1v1h-1zM533 233h2v1h-2zM239 234h1v1h-1zM243 234h1v1h-1zM251 234h1v1h-1zM259 234h1v1h-1zM262 234h1v1h-1zM267 234h1v1h-1zM273 234h2v1h-2zM278 234h1v1h-1zM284 234h1v1h-1zM304 234h1v1h-1zM306 234h1v1h-1zM327 234h1v1h-1zM339 234h1v1h-1zM345 234h1v1h-1zM365 234h1v1h-1zM375 234h1v1h-1zM378 234h1v1h-1zM382 234h1v1h-1zM389 234h1v1h-1zM394 234h1v1h-1zM396 234h1v1h-1zM405 234h1v1h-1zM441 234h1v1h-1zM443 234h1v1h-1zM456 234h1v1h-1zM460 234h1v1h-1zM482 234h1v1h-1zM484 234h1v1h-1zM493 234h1v1h-1zM495 234h1v1h-1zM501 234h1v1h-1zM512 234h1v1h-1zM523 234h1v1h-1zM525 234h1v1h-1zM528 234h1v1h-1zM533 234h1v1h-1zM535 234h1v1h-1zM211 235h1v1h-1zM239 235h1v1h-1zM243 235h1v1h-1zM259 235h1v1h-1zM261 235h1v1h-1zM263 235h1v1h-1zM266 235h1v1h-1zM279 235h6v1h-6zM304 235h1v1h-1zM306 235h1v1h-1zM327 235h1v1h-1zM339 235h1v1h-1zM344 235h1v1h-1zM366 235h1v1h-1zM368 235h1v1h-1zM374 235h1v1h-1zM378 235h1v1h-1zM381 235h2v1h-2zM388 235h1v1h-1zM394 235h1v1h-1zM396 235h1v1h-1zM405 235h1v1h-1zM412 235h1v1h-1zM441 235h1v1h-1zM443 235h1v1h-1zM457 235h1v1h-1zM460 235h1v1h-1zM484 235h1v1h-1zM493 235h1v1h-1zM495 235h1v1h-1zM501 235h1v1h-1zM524 235h1v1h-1zM528 235h1v1h-1zM531 235h3v1h-3zM535 235h1v1h-1zM210 236h2v1h-2zM239 236h1v1h-1zM259 236h1v1h-1zM261 236h1v1h-1zM263 236h1v1h-1zM266 236h1v1h-1zM284 236h1v1h-1zM304 236h1v1h-1zM307 236h2v1h-2zM326 236h1v1h-1zM339 236h1v1h-1zM344 236h1v1h-1zM366 236h2v1h-2zM369 236h2v1h-2zM374 236h1v1h-1zM379 236h2v1h-2zM382 236h1v1h-1zM388 236h1v1h-1zM394 236h1v1h-1zM396 236h1v1h-1zM406 236h1v1h-1zM411 236h1v1h-1zM413 236h1v1h-1zM433 236h1v1h-1zM441 236h1v1h-1zM457 236h1v1h-1zM460 236h1v1h-1zM485 236h1v1h-1zM493 236h1v1h-1zM496 236h1v1h-1zM501 236h1v1h-1zM528 236h1v1h-1zM530 236h1v1h-1zM535 236h1v1h-1zM210 237h2v1h-2zM239 237h1v1h-1zM260 237h2v1h-2zM263 237h1v1h-1zM265 237h1v1h-1zM285 237h1v1h-1zM301 237h1v1h-1zM303 237h1v1h-1zM308 237h1v1h-1zM326 237h1v1h-1zM340 237h1v1h-1zM344 237h1v1h-1zM371 237h3v1h-3zM382 237h1v1h-1zM388 237h1v1h-1zM395 237h1v1h-1zM406 237h1v1h-1zM410 237h1v1h-1zM413 237h1v1h-1zM433 237h1v1h-1zM440 237h1v1h-1zM457 237h1v1h-1zM459 237h1v1h-1zM485 237h1v1h-1zM490 237h1v1h-1zM492 237h1v1h-1zM497 237h1v1h-1zM501 237h1v1h-1zM529 237h1v1h-1zM535 237h1v1h-1zM210 238h1v1h-1zM212 238h1v1h-1zM239 238h1v1h-1zM260 238h1v1h-1zM264 238h2v1h-2zM285 238h1v1h-1zM293 238h1v1h-1zM297 238h1v1h-1zM300 238h2v1h-2zM303 238h1v1h-1zM308 238h1v1h-1zM326 238h1v1h-1zM340 238h1v1h-1zM344 238h1v1h-1zM373 238h1v1h-1zM383 238h1v1h-1zM387 238h1v1h-1zM395 238h1v1h-1zM407 238h1v1h-1zM409 238h1v1h-1zM413 238h1v1h-1zM433 238h2v1h-2zM439 238h2v1h-2zM457 238h1v1h-1zM459 238h1v1h-1zM485 238h1v1h-1zM489 238h1v1h-1zM491 238h2v1h-2zM497 238h1v1h-1zM501 238h1v1h-1zM529 238h1v1h-1zM536 238h1v1h-1zM569 238h1v1h-1zM583 238h1v1h-1zM209 239h1v1h-1zM212 239h1v1h-1zM239 239h1v1h-1zM264 239h1v1h-1zM285 239h1v1h-1zM293 239h1v1h-1zM296 239h1v1h-1zM298 239h2v1h-2zM302 239h2v1h-2zM309 239h1v1h-1zM326 239h1v1h-1zM340 239h1v1h-1zM344 239h1v1h-1zM383 239h1v1h-1zM387 239h1v1h-1zM395 239h1v1h-1zM408 239h2v1h-2zM413 239h1v1h-1zM418 239h1v1h-1zM432 239h1v1h-1zM434 239h1v1h-1zM438 239h1v1h-1zM457 239h1v1h-1zM459 239h1v1h-1zM486 239h1v1h-1zM489 239h1v1h-1zM498 239h1v1h-1zM500 239h1v1h-1zM536 239h1v1h-1zM568 239h2v1h-2zM582 239h2v1h-2zM209 240h1v1h-1zM212 240h1v1h-1zM220 240h1v1h-1zM232 240h3v1h-3zM238 240h1v1h-1zM264 240h1v1h-1zM286 240h3v1h-3zM291 240h3v1h-3zM296 240h1v1h-1zM302 240h1v1h-1zM309 240h1v1h-1zM325 240h1v1h-1zM340 240h1v1h-1zM344 240h1v1h-1zM383 240h1v1h-1zM386 240h1v1h-1zM395 240h1v1h-1zM414 240h1v1h-1zM417 240h2v1h-2zM426 240h1v1h-1zM432 240h1v1h-1zM435 240h1v1h-1zM437 240h1v1h-1zM458 240h1v1h-1zM486 240h1v1h-1zM488 240h1v1h-1zM498 240h1v1h-1zM500 240h1v1h-1zM537 240h1v1h-1zM568 240h2v1h-2zM582 240h2v1h-2zM209 241h1v1h-1zM212 241h1v1h-1zM220 241h1v1h-1zM231 241h1v1h-1zM234 241h1v1h-1zM238 241h1v1h-1zM286 241h1v1h-1zM288 241h1v1h-1zM291 241h3v1h-3zM295 241h1v1h-1zM309 241h1v1h-1zM314 241h1v1h-1zM325 241h1v1h-1zM340 241h1v1h-1zM344 241h1v1h-1zM383 241h1v1h-1zM386 241h1v1h-1zM414 241h1v1h-1zM417 241h1v1h-1zM419 241h1v1h-1zM423 241h1v1h-1zM426 241h1v1h-1zM432 241h1v1h-1zM436 241h2v1h-2zM458 241h1v1h-1zM486 241h1v1h-1zM488 241h1v1h-1zM499 241h1v1h-1zM537 241h1v1h-1zM568 241h2v1h-2zM582 241h2v1h-2zM209 242h1v1h-1zM213 242h1v1h-1zM219 242h1v1h-1zM221 242h1v1h-1zM230 242h1v1h-1zM235 242h1v1h-1zM237 242h2v1h-2zM289 242h2v1h-2zM294 242h2v1h-2zM310 242h1v1h-1zM314 242h1v1h-1zM324 242h1v1h-1zM340 242h1v1h-1zM344 242h1v1h-1zM383 242h1v1h-1zM385 242h1v1h-1zM414 242h1v1h-1zM416 242h1v1h-1zM419 242h1v1h-1zM422 242h2v1h-2zM425 242h2v1h-2zM432 242h1v1h-1zM486 242h1v1h-1zM488 242h1v1h-1zM499 242h1v1h-1zM537 242h1v1h-1zM568 242h2v1h-2zM582 242h2v1h-2zM209 243h1v1h-1zM214 243h1v1h-1zM219 243h1v1h-1zM221 243h1v1h-1zM226 243h1v1h-1zM230 243h1v1h-1zM235 243h2v1h-2zM289 243h2v1h-2zM294 243h1v1h-1zM311 243h1v1h-1zM313 243h2v1h-2zM323 243h1v1h-1zM340 243h1v1h-1zM343 243h1v1h-1zM384 243h2v1h-2zM414 243h1v1h-1zM416 243h1v1h-1zM420 243h2v1h-2zM424 243h3v1h-3zM432 243h1v1h-1zM487 243h1v1h-1zM538 243h1v1h-1zM568 243h1v1h-1zM570 243h1v1h-1zM581 243h1v1h-1zM584 243h1v1h-1zM209 244h1v1h-1zM215 244h1v1h-1zM217 244h1v1h-1zM219 244h1v1h-1zM221 244h1v1h-1zM225 244h1v1h-1zM227 244h1v1h-1zM229 244h1v1h-1zM236 244h1v1h-1zM290 244h1v1h-1zM294 244h1v1h-1zM311 244h1v1h-1zM313 244h1v1h-1zM315 244h1v1h-1zM323 244h1v1h-1zM340 244h1v1h-1zM343 244h1v1h-1zM384 244h1v1h-1zM414 244h1v1h-1zM416 244h1v1h-1zM427 244h1v1h-1zM432 244h1v1h-1zM487 244h1v1h-1zM538 244h1v1h-1zM568 244h1v1h-1zM570 244h1v1h-1zM581 244h1v1h-1zM584 244h1v1h-1zM208 245h1v1h-1zM216 245h2v1h-2zM219 245h1v1h-1zM222 245h1v1h-1zM225 245h1v1h-1zM228 245h2v1h-2zM311 245h1v1h-1zM313 245h1v1h-1zM315 245h1v1h-1zM322 245h1v1h-1zM340 245h1v1h-1zM343 245h1v1h-1zM415 245h1v1h-1zM427 245h1v1h-1zM431 245h1v1h-1zM538 245h1v1h-1zM567 245h1v1h-1zM570 245h1v1h-1zM581 245h1v1h-1zM584 245h1v1h-1zM208 246h1v1h-1zM217 246h2v1h-2zM222 246h1v1h-1zM225 246h1v1h-1zM312 246h1v1h-1zM315 246h1v1h-1zM322 246h1v1h-1zM341 246h1v1h-1zM343 246h1v1h-1zM415 246h1v1h-1zM427 246h1v1h-1zM431 246h1v1h-1zM539 246h2v1h-2zM567 246h1v1h-1zM570 246h1v1h-1zM581 246h1v1h-1zM584 246h1v1h-1zM586 246h1v1h-1zM201 247h1v1h-1zM208 247h1v1h-1zM218 247h1v1h-1zM222 247h1v1h-1zM224 247h1v1h-1zM312 247h1v1h-1zM315 247h1v1h-1zM322 247h1v1h-1zM341 247h1v1h-1zM343 247h1v1h-1zM427 247h1v1h-1zM431 247h1v1h-1zM540 247h1v1h-1zM567 247h1v1h-1zM570 247h1v1h-1zM581 247h1v1h-1zM584 247h1v1h-1zM586 247h2v1h-2zM189 248h1v1h-1zM197 248h1v1h-1zM201 248h1v1h-1zM204 248h1v1h-1zM208 248h1v1h-1zM218 248h1v1h-1zM222 248h1v1h-1zM224 248h1v1h-1zM312 248h1v1h-1zM315 248h1v1h-1zM321 248h1v1h-1zM341 248h1v1h-1zM343 248h1v1h-1zM427 248h1v1h-1zM431 248h1v1h-1zM541 248h1v1h-1zM567 248h1v1h-1zM570 248h1v1h-1zM581 248h1v1h-1zM584 248h1v1h-1zM586 248h2v1h-2zM93 249h1v1h-1zM116 249h1v1h-1zM180 249h1v1h-1zM188 249h2v1h-2zM196 249h2v1h-2zM200 249h1v1h-1zM202 249h1v1h-1zM204 249h1v1h-1zM206 249h2v1h-2zM223 249h2v1h-2zM316 249h1v1h-1zM321 249h1v1h-1zM341 249h1v1h-1zM343 249h1v1h-1zM427 249h1v1h-1zM431 249h1v1h-1zM541 249h1v1h-1zM567 249h1v1h-1zM570 249h1v1h-1zM581 249h1v1h-1zM584 249h2v1h-2zM588 249h1v1h-1zM92 250h2v1h-2zM114 250h1v1h-1zM116 250h2v1h-2zM166 250h1v1h-1zM180 250h1v1h-1zM188 250h1v1h-1zM190 250h1v1h-1zM195 250h1v1h-1zM197 250h1v1h-1zM200 250h1v1h-1zM202 250h1v1h-1zM204 250h1v1h-1zM206 250h2v1h-2zM223 250h1v1h-1zM316 250h1v1h-1zM321 250h1v1h-1zM341 250h1v1h-1zM343 250h1v1h-1zM427 250h1v1h-1zM431 250h1v1h-1zM541 250h1v1h-1zM567 250h1v1h-1zM571 250h1v1h-1zM580 250h1v1h-1zM585 250h1v1h-1zM589 250h1v1h-1zM91 251h1v1h-1zM93 251h1v1h-1zM112 251h1v1h-1zM114 251h2v1h-2zM118 251h1v1h-1zM166 251h1v1h-1zM179 251h1v1h-1zM181 251h1v1h-1zM187 251h1v1h-1zM190 251h1v1h-1zM193 251h1v1h-1zM195 251h1v1h-1zM198 251h1v1h-1zM200 251h1v1h-1zM202 251h2v1h-2zM205 251h1v1h-1zM207 251h1v1h-1zM223 251h1v1h-1zM316 251h1v1h-1zM320 251h1v1h-1zM341 251h2v1h-2zM428 251h1v1h-1zM431 251h1v1h-1zM542 251h1v1h-1zM567 251h1v1h-1zM571 251h1v1h-1zM580 251h1v1h-1zM585 251h1v1h-1zM590 251h1v1h-1zM91 252h1v1h-1zM94 252h1v1h-1zM108 252h1v1h-1zM111 252h3v1h-3zM115 252h1v1h-1zM118 252h1v1h-1zM166 252h2v1h-2zM179 252h1v1h-1zM181 252h1v1h-1zM187 252h1v1h-1zM190 252h1v1h-1zM193 252h2v1h-2zM198 252h2v1h-2zM203 252h1v1h-1zM205 252h1v1h-1zM316 252h1v1h-1zM320 252h1v1h-1zM341 252h2v1h-2zM428 252h1v1h-1zM431 252h1v1h-1zM542 252h2v1h-2zM567 252h1v1h-1zM571 252h1v1h-1zM580 252h1v1h-1zM590 252h1v1h-1zM90 253h1v1h-1zM94 253h1v1h-1zM108 253h4v1h-4zM113 253h1v1h-1zM115 253h1v1h-1zM118 253h1v1h-1zM153 253h2v1h-2zM165 253h1v1h-1zM167 253h1v1h-1zM178 253h1v1h-1zM181 253h1v1h-1zM183 253h4v1h-4zM191 253h1v1h-1zM193 253h1v1h-1zM199 253h1v1h-1zM203 253h1v1h-1zM205 253h1v1h-1zM317 253h1v1h-1zM319 253h1v1h-1zM342 253h1v1h-1zM428 253h1v1h-1zM430 253h1v1h-1zM542 253h1v1h-1zM544 253h1v1h-1zM567 253h1v1h-1zM571 253h1v1h-1zM580 253h1v1h-1zM591 253h1v1h-1zM90 254h1v1h-1zM94 254h1v1h-1zM107 254h1v1h-1zM119 254h1v1h-1zM121 254h1v1h-1zM137 254h2v1h-2zM142 254h1v1h-1zM152 254h1v1h-1zM154 254h1v1h-1zM156 254h1v1h-1zM165 254h1v1h-1zM167 254h1v1h-1zM171 254h1v1h-1zM178 254h1v1h-1zM182 254h1v1h-1zM186 254h1v1h-1zM191 254h2v1h-2zM203 254h1v1h-1zM317 254h1v1h-1zM319 254h1v1h-1zM342 254h1v1h-1zM428 254h1v1h-1zM430 254h1v1h-1zM545 254h1v1h-1zM567 254h1v1h-1zM571 254h1v1h-1zM579 254h1v1h-1zM591 254h1v1h-1zM90 255h1v1h-1zM94 255h1v1h-1zM107 255h1v1h-1zM119 255h3v1h-3zM124 255h1v1h-1zM128 255h1v1h-1zM132 255h1v1h-1zM136 255h1v1h-1zM139 255h2v1h-2zM142 255h3v1h-3zM152 255h1v1h-1zM155 255h2v1h-2zM165 255h1v1h-1zM168 255h1v1h-1zM170 255h2v1h-2zM175 255h1v1h-1zM177 255h1v1h-1zM182 255h1v1h-1zM192 255h1v1h-1zM317 255h2v1h-2zM428 255h1v1h-1zM430 255h1v1h-1zM546 255h1v1h-1zM566 255h1v1h-1zM571 255h1v1h-1zM578 255h1v1h-1zM592 255h1v1h-1zM89 256h1v1h-1zM95 256h1v1h-1zM107 256h1v1h-1zM119 256h3v1h-3zM123 256h2v1h-2zM127 256h2v1h-2zM132 256h1v1h-1zM136 256h1v1h-1zM140 256h2v1h-2zM144 256h1v1h-1zM148 256h1v1h-1zM150 256h2v1h-2zM157 256h1v1h-1zM164 256h1v1h-1zM168 256h2v1h-2zM171 256h1v1h-1zM175 256h1v1h-1zM177 256h1v1h-1zM192 256h1v1h-1zM318 256h1v1h-1zM428 256h1v1h-1zM430 256h1v1h-1zM546 256h1v1h-1zM566 256h1v1h-1zM572 256h1v1h-1zM577 256h1v1h-1zM592 256h1v1h-1zM81 257h2v1h-2zM89 257h1v1h-1zM95 257h1v1h-1zM106 257h1v1h-1zM122 257h1v1h-1zM125 257h2v1h-2zM129 257h1v1h-1zM131 257h1v1h-1zM133 257h1v1h-1zM135 257h1v1h-1zM141 257h1v1h-1zM144 257h1v1h-1zM147 257h3v1h-3zM151 257h1v1h-1zM157 257h1v1h-1zM159 257h2v1h-2zM164 257h1v1h-1zM169 257h1v1h-1zM172 257h1v1h-1zM174 257h1v1h-1zM176 257h1v1h-1zM318 257h1v1h-1zM428 257h1v1h-1zM430 257h1v1h-1zM547 257h1v1h-1zM566 257h1v1h-1zM572 257h2v1h-2zM577 257h1v1h-1zM592 257h1v1h-1zM80 258h1v1h-1zM82 258h1v1h-1zM87 258h1v1h-1zM89 258h1v1h-1zM95 258h1v1h-1zM102 258h1v1h-1zM106 258h1v1h-1zM122 258h1v1h-1zM129 258h1v1h-1zM131 258h1v1h-1zM133 258h2v1h-2zM145 258h1v1h-1zM147 258h1v1h-1zM149 258h1v1h-1zM158 258h1v1h-1zM160 258h1v1h-1zM163 258h1v1h-1zM172 258h3v1h-3zM429 258h2v1h-2zM548 258h1v1h-1zM566 258h1v1h-1zM572 258h1v1h-1zM574 258h1v1h-1zM576 258h1v1h-1zM593 258h1v1h-1zM80 259h1v1h-1zM83 259h1v1h-1zM86 259h3v1h-3zM95 259h1v1h-1zM101 259h2v1h-2zM105 259h1v1h-1zM129 259h1v1h-1zM131 259h1v1h-1zM145 259h1v1h-1zM147 259h1v1h-1zM161 259h2v1h-2zM172 259h1v1h-1zM429 259h2v1h-2zM548 259h1v1h-1zM566 259h1v1h-1zM574 259h1v1h-1zM576 259h1v1h-1zM593 259h1v1h-1zM51 260h1v1h-1zM55 260h1v1h-1zM79 260h1v1h-1zM83 260h2v1h-2zM86 260h1v1h-1zM88 260h1v1h-1zM96 260h1v1h-1zM98 260h1v1h-1zM101 260h2v1h-2zM105 260h1v1h-1zM130 260h1v1h-1zM145 260h2v1h-2zM162 260h1v1h-1zM429 260h1v1h-1zM549 260h1v1h-1zM566 260h1v1h-1zM575 260h1v1h-1zM593 260h1v1h-1zM50 261h2v1h-2zM53 261h3v1h-3zM79 261h1v1h-1zM84 261h2v1h-2zM96 261h3v1h-3zM100 261h1v1h-1zM103 261h1v1h-1zM105 261h1v1h-1zM146 261h1v1h-1zM429 261h1v1h-1zM549 261h1v1h-1zM566 261h1v1h-1zM575 261h1v1h-1zM593 261h1v1h-1zM49 262h1v1h-1zM52 262h1v1h-1zM55 262h1v1h-1zM60 262h1v1h-1zM79 262h1v1h-1zM85 262h1v1h-1zM98 262h1v1h-1zM100 262h1v1h-1zM103 262h1v1h-1zM105 262h1v1h-1zM146 262h1v1h-1zM429 262h1v1h-1zM549 262h1v1h-1zM561 262h1v1h-1zM566 262h1v1h-1zM593 262h1v1h-1zM55 263h1v1h-1zM58 263h1v1h-1zM60 263h1v1h-1zM79 263h1v1h-1zM98 263h1v1h-1zM100 263h1v1h-1zM103 263h2v1h-2zM549 263h1v1h-1zM561 263h1v1h-1zM566 263h1v1h-1zM594 263h1v1h-1zM56 264h3v1h-3zM60 264h2v1h-2zM79 264h1v1h-1zM99 264h1v1h-1zM103 264h2v1h-2zM549 264h1v1h-1zM560 264h2v1h-2zM566 264h1v1h-1zM594 264h1v1h-1zM56 265h1v1h-1zM58 265h2v1h-2zM61 265h1v1h-1zM78 265h1v1h-1zM99 265h1v1h-1zM104 265h1v1h-1zM549 265h1v1h-1zM560 265h1v1h-1zM562 265h1v1h-1zM565 265h1v1h-1zM594 265h1v1h-1zM56 266h1v1h-1zM59 266h1v1h-1zM61 266h1v1h-1zM78 266h1v1h-1zM99 266h1v1h-1zM550 266h1v1h-1zM558 266h2v1h-2zM562 266h2v1h-2zM565 266h1v1h-1zM595 266h1v1h-1zM59 267h1v1h-1zM62 267h1v1h-1zM78 267h1v1h-1zM550 267h1v1h-1zM557 267h1v1h-1zM559 267h1v1h-1zM562 267h1v1h-1zM564 267h2v1h-2zM595 267h1v1h-1zM62 268h1v1h-1zM67 268h1v1h-1zM78 268h1v1h-1zM550 268h1v1h-1zM557 268h1v1h-1zM565 268h1v1h-1zM596 268h1v1h-1zM62 269h1v1h-1zM67 269h1v1h-1zM78 269h1v1h-1zM550 269h1v1h-1zM556 269h1v1h-1zM596 269h1v1h-1zM63 270h1v1h-1zM66 270h2v1h-2zM72 270h1v1h-1zM77 270h1v1h-1zM550 270h1v1h-1zM555 270h1v1h-1zM597 270h1v1h-1zM63 271h1v1h-1zM66 271h1v1h-1zM68 271h1v1h-1zM71 271h2v1h-2zM77 271h1v1h-1zM550 271h1v1h-1zM554 271h1v1h-1zM597 271h1v1h-1zM63 272h1v1h-1zM66 272h1v1h-1zM68 272h1v1h-1zM70 272h1v1h-1zM72 272h1v1h-1zM77 272h1v1h-1zM550 272h1v1h-1zM554 272h1v1h-1zM598 272h1v1h-1zM64 273h1v1h-1zM66 273h1v1h-1zM68 273h1v1h-1zM70 273h1v1h-1zM72 273h1v1h-1zM77 273h1v1h-1zM550 273h1v1h-1zM553 273h1v1h-1zM599 273h1v1h-1zM64 274h2v1h-2zM68 274h2v1h-2zM73 274h1v1h-1zM77 274h1v1h-1zM550 274h1v1h-1zM553 274h1v1h-1zM599 274h1v1h-1zM604 274h1v1h-1zM64 275h2v1h-2zM69 275h1v1h-1zM73 275h1v1h-1zM76 275h1v1h-1zM550 275h1v1h-1zM553 275h1v1h-1zM600 275h1v1h-1zM603 275h1v1h-1zM605 275h3v1h-3zM619 275h1v1h-1zM73 276h1v1h-1zM76 276h1v1h-1zM551 276h2v1h-2zM600 276h1v1h-1zM603 276h1v1h-1zM607 276h1v1h-1zM609 276h2v1h-2zM618 276h2v1h-2zM73 277h1v1h-1zM76 277h1v1h-1zM551 277h2v1h-2zM601 277h1v1h-1zM603 277h1v1h-1zM608 277h1v1h-1zM610 277h1v1h-1zM618 277h1v1h-1zM620 277h1v1h-1zM74 278h2v1h-2zM551 278h2v1h-2zM601 278h2v1h-2zM608 278h1v1h-1zM611 278h1v1h-1zM615 278h1v1h-1zM618 278h1v1h-1zM620 278h1v1h-1zM75 279h1v1h-1zM551 279h1v1h-1zM601 279h2v1h-2zM611 279h1v1h-1zM614 279h1v1h-1zM616 279h2v1h-2zM551 280h1v1h-1zM602 280h1v1h-1zM612 280h1v1h-1zM614 280h1v1h-1zM616 280h2v1h-2zM551 281h1v1h-1zM602 281h1v1h-1zM612 281h1v1h-1zM614 281h1v1h-1zM617 281h1v1h-1zM613 282h1v1h-1zM613 283h1v1h-1z"/>
<path fill="#00c000" d="M581 61h29v1h-29zM254 171h1v1h-1zM253 172h2v1h-2zM359 172h1v1h-1zM253 173h1v1h-1zM255 173h1v1h-1zM359 173h1v1h-1zM253 174h1v1h-1zM255 174h1v1h-1zM359 174h1v1h-1zM51 175h2v1h-2zM59 175h1v1h-1zM155 175h1v1h-1zM252 175h1v1h-1zM256 175h1v1h-1zM358 175h2v1h-2zM51 176h2v1h-2zM59 176h1v1h-1zM154 176h2v1h-2zM252 176h1v1h-1zM256 176h2v1h-2zM358 176h2v1h-2zM50 177h1v1h-1zM52 177h1v1h-1zM56 177h1v1h-1zM58 177h1v1h-1zM60 177h1v1h-1zM153 177h2v1h-2zM156 177h1v1h-1zM252 177h1v1h-1zM257 177h1v1h-1zM358 177h2v1h-2zM50 178h1v1h-1zM52 178h1v1h-1zM56 178h3v1h-3zM60 178h1v1h-1zM82 178h2v1h-2zM153 178h1v1h-1zM156 178h1v1h-1zM252 178h1v1h-1zM257 178h1v1h-1zM268 178h3v1h-3zM281 178h1v1h-1zM358 178h1v1h-1zM360 178h1v1h-1zM50 179h1v1h-1zM53 179h3v1h-3zM58 179h1v1h-1zM61 179h1v1h-1zM81 179h1v1h-1zM83 179h1v1h-1zM117 179h1v1h-1zM153 179h1v1h-1zM156 179h1v1h-1zM252 179h1v1h-1zM257 179h1v1h-1zM268 179h1v1h-1zM270 179h1v1h-1zM277 179h1v1h-1zM281 179h1v1h-1zM358 179h1v1h-1zM360 179h1v1h-1zM49 180h1v1h-1zM53 180h3v1h-3zM61 180h1v1h-1zM80 180h1v1h-1zM83 180h1v1h-1zM92 180h1v1h-1zM117 180h1v1h-1zM152 180h1v1h-1zM157 180h1v1h-1zM167 180h1v1h-1zM252 180h1v1h-1zM258 180h1v1h-1zM268 180h1v1h-1zM270 180h1v1h-1zM274 180h1v1h-1zM277 180h2v1h-2zM281 180h2v1h-2zM358 180h1v1h-1zM360 180h1v1h-1zM402 180h1v1h-1zM49 181h1v1h-1zM53 181h1v1h-1zM62 181h1v1h-1zM80 181h1v1h-1zM84 181h1v1h-1zM91 181h2v1h-2zM117 181h1v1h-1zM122 181h1v1h-1zM128 181h1v1h-1zM152 181h1v1h-1zM158 181h1v1h-1zM164 181h1v1h-1zM166 181h2v1h-2zM240 181h2v1h-2zM246 181h1v1h-1zM251 181h1v1h-1zM258 181h1v1h-1zM268 181h1v1h-1zM270 181h1v1h-1zM273 181h1v1h-1zM275 181h2v1h-2zM279 181h1v1h-1zM281 181h2v1h-2zM358 181h1v1h-1zM360 181h1v1h-1zM401 181h2v1h-2zM53 182h1v1h-1zM62 182h1v1h-1zM79 182h1v1h-1zM84 182h1v1h-1zM91 182h2v1h-2zM115 182h1v1h-1zM117 182h1v1h-1zM119 182h1v1h-1zM122 182h1v1h-1zM127 182h2v1h-2zM152 182h1v1h-1zM158 182h1v1h-1zM160 182h2v1h-2zM164 182h2v1h-2zM168 182h1v1h-1zM180 182h1v1h-1zM240 182h1v1h-1zM242 182h1v1h-1zM246 182h1v1h-1zM248 182h2v1h-2zM251 182h1v1h-1zM258 182h1v1h-1zM267 182h1v1h-1zM271 182h2v1h-2zM276 182h1v1h-1zM279 182h2v1h-2zM282 182h1v1h-1zM358 182h1v1h-1zM360 182h1v1h-1zM401 182h2v1h-2zM62 183h1v1h-1zM79 183h1v1h-1zM84 183h1v1h-1zM87 183h1v1h-1zM90 183h1v1h-1zM93 183h1v1h-1zM114 183h3v1h-3zM118 183h5v1h-5zM127 183h2v1h-2zM152 183h1v1h-1zM158 183h1v1h-1zM160 183h1v1h-1zM162 183h1v1h-1zM164 183h1v1h-1zM168 183h1v1h-1zM176 183h2v1h-2zM180 183h1v1h-1zM239 183h1v1h-1zM242 183h1v1h-1zM246 183h2v1h-2zM250 183h2v1h-2zM258 183h1v1h-1zM267 183h1v1h-1zM271 183h1v1h-1zM279 183h2v1h-2zM282 183h1v1h-1zM357 183h1v1h-1zM360 183h1v1h-1zM400 183h1v1h-1zM403 183h1v1h-1zM63 184h1v1h-1zM79 184h1v1h-1zM84 184h1v1h-1zM87 184h4v1h-4zM93 184h1v1h-1zM113 184h1v1h-1zM115 184h2v1h-2zM118 184h1v1h-1zM121 184h2v1h-2zM126 184h1v1h-1zM129 184h1v1h-1zM141 184h1v1h-1zM152 184h1v1h-1zM159 184h1v1h-1zM162 184h1v1h-1zM164 184h1v1h-1zM169 184h1v1h-1zM176 184h2v1h-2zM180 184h1v1h-1zM234 184h1v1h-1zM239 184h1v1h-1zM243 184h1v1h-1zM245 184h1v1h-1zM251 184h1v1h-1zM259 184h1v1h-1zM264 184h4v1h-4zM271 184h1v1h-1zM280 184h1v1h-1zM283 184h1v1h-1zM304 184h2v1h-2zM309 184h1v1h-1zM357 184h1v1h-1zM360 184h1v1h-1zM400 184h1v1h-1zM403 184h1v1h-1zM63 185h1v1h-1zM78 185h1v1h-1zM85 185h2v1h-2zM93 185h1v1h-1zM112 185h1v1h-1zM116 185h1v1h-1zM118 185h1v1h-1zM123 185h1v1h-1zM125 185h1v1h-1zM129 185h1v1h-1zM132 185h1v1h-1zM141 185h1v1h-1zM152 185h1v1h-1zM159 185h1v1h-1zM162 185h2v1h-2zM169 185h1v1h-1zM175 185h1v1h-1zM178 185h3v1h-3zM233 185h2v1h-2zM239 185h1v1h-1zM244 185h2v1h-2zM260 185h1v1h-1zM264 185h1v1h-1zM266 185h2v1h-2zM280 185h1v1h-1zM283 185h1v1h-1zM304 185h2v1h-2zM309 185h1v1h-1zM357 185h1v1h-1zM360 185h1v1h-1zM400 185h1v1h-1zM403 185h1v1h-1zM63 186h1v1h-1zM67 186h2v1h-2zM78 186h1v1h-1zM85 186h2v1h-2zM94 186h1v1h-1zM112 186h1v1h-1zM116 186h1v1h-1zM123 186h2v1h-2zM129 186h1v1h-1zM132 186h1v1h-1zM141 186h1v1h-1zM151 186h1v1h-1zM163 186h1v1h-1zM170 186h1v1h-1zM175 186h1v1h-1zM178 186h2v1h-2zM181 186h1v1h-1zM232 186h3v1h-3zM239 186h1v1h-1zM245 186h1v1h-1zM261 186h1v1h-1zM264 186h1v1h-1zM267 186h1v1h-1zM283 186h1v1h-1zM303 186h1v1h-1zM306 186h1v1h-1zM309 186h2v1h-2zM357 186h1v1h-1zM360 186h1v1h-1zM400 186h1v1h-1zM403 186h1v1h-1zM64 187h1v1h-1zM66 187h1v1h-1zM68 187h1v1h-1zM78 187h1v1h-1zM86 187h1v1h-1zM94 187h1v1h-1zM101 187h1v1h-1zM112 187h1v1h-1zM123 187h2v1h-2zM130 187h2v1h-2zM133 187h1v1h-1zM141 187h1v1h-1zM144 187h1v1h-1zM151 187h1v1h-1zM163 187h1v1h-1zM171 187h1v1h-1zM175 187h1v1h-1zM179 187h1v1h-1zM181 187h1v1h-1zM220 187h1v1h-1zM232 187h1v1h-1zM234 187h1v1h-1zM238 187h1v1h-1zM262 187h2v1h-2zM284 187h1v1h-1zM303 187h1v1h-1zM307 187h2v1h-2zM310 187h1v1h-1zM357 187h1v1h-1zM360 187h1v1h-1zM399 187h1v1h-1zM404 187h1v1h-1zM64 188h1v1h-1zM66 188h1v1h-1zM68 188h1v1h-1zM70 188h2v1h-2zM78 188h1v1h-1zM95 188h1v1h-1zM101 188h1v1h-1zM107 188h2v1h-2zM112 188h1v1h-1zM123 188h1v1h-1zM130 188h2v1h-2zM133 188h1v1h-1zM140 188h1v1h-1zM142 188h3v1h-3zM151 188h1v1h-1zM163 188h1v1h-1zM171 188h1v1h-1zM174 188h1v1h-1zM181 188h1v1h-1zM219 188h2v1h-2zM232 188h1v1h-1zM234 188h1v1h-1zM238 188h1v1h-1zM262 188h2v1h-2zM285 188h1v1h-1zM301 188h2v1h-2zM307 188h2v1h-2zM310 188h1v1h-1zM357 188h1v1h-1zM360 188h1v1h-1zM399 188h1v1h-1zM404 188h1v1h-1zM64 189h2v1h-2zM68 189h1v1h-1zM70 189h2v1h-2zM77 189h1v1h-1zM95 189h1v1h-1zM97 189h1v1h-1zM101 189h1v1h-1zM105 189h2v1h-2zM109 189h3v1h-3zM131 189h1v1h-1zM133 189h1v1h-1zM138 189h3v1h-3zM142 189h3v1h-3zM151 189h1v1h-1zM172 189h2v1h-2zM181 189h1v1h-1zM219 189h1v1h-1zM221 189h1v1h-1zM227 189h1v1h-1zM231 189h1v1h-1zM235 189h1v1h-1zM238 189h1v1h-1zM263 189h1v1h-1zM286 189h2v1h-2zM290 189h1v1h-1zM300 189h1v1h-1zM308 189h1v1h-1zM311 189h1v1h-1zM357 189h1v1h-1zM361 189h1v1h-1zM398 189h2v1h-2zM404 189h1v1h-1zM65 190h1v1h-1zM69 190h1v1h-1zM71 190h1v1h-1zM77 190h1v1h-1zM96 190h1v1h-1zM98 190h1v1h-1zM100 190h2v1h-2zM105 190h2v1h-2zM110 190h2v1h-2zM134 190h2v1h-2zM137 190h1v1h-1zM139 190h2v1h-2zM142 190h1v1h-1zM145 190h1v1h-1zM147 190h1v1h-1zM151 190h1v1h-1zM172 190h2v1h-2zM181 190h1v1h-1zM219 190h1v1h-1zM221 190h1v1h-1zM226 190h2v1h-2zM231 190h1v1h-1zM235 190h1v1h-1zM238 190h1v1h-1zM263 190h1v1h-1zM287 190h1v1h-1zM290 190h1v1h-1zM297 190h1v1h-1zM299 190h1v1h-1zM311 190h1v1h-1zM357 190h1v1h-1zM361 190h1v1h-1zM397 190h1v1h-1zM404 190h1v1h-1zM65 191h1v1h-1zM69 191h1v1h-1zM72 191h1v1h-1zM77 191h1v1h-1zM96 191h1v1h-1zM98 191h1v1h-1zM100 191h1v1h-1zM102 191h1v1h-1zM104 191h1v1h-1zM111 191h1v1h-1zM136 191h1v1h-1zM140 191h1v1h-1zM142 191h1v1h-1zM145 191h2v1h-2zM148 191h1v1h-1zM151 191h1v1h-1zM181 191h1v1h-1zM219 191h1v1h-1zM221 191h1v1h-1zM226 191h2v1h-2zM231 191h1v1h-1zM235 191h1v1h-1zM238 191h1v1h-1zM288 191h1v1h-1zM290 191h2v1h-2zM296 191h2v1h-2zM299 191h1v1h-1zM311 191h1v1h-1zM336 191h1v1h-1zM356 191h1v1h-1zM361 191h1v1h-1zM397 191h1v1h-1zM405 191h1v1h-1zM69 192h1v1h-1zM72 192h1v1h-1zM77 192h1v1h-1zM99 192h2v1h-2zM102 192h1v1h-1zM104 192h1v1h-1zM111 192h1v1h-1zM145 192h2v1h-2zM149 192h1v1h-1zM151 192h1v1h-1zM182 192h1v1h-1zM184 192h1v1h-1zM187 192h2v1h-2zM219 192h1v1h-1zM221 192h1v1h-1zM225 192h1v1h-1zM228 192h1v1h-1zM231 192h1v1h-1zM235 192h1v1h-1zM238 192h1v1h-1zM288 192h2v1h-2zM292 192h1v1h-1zM295 192h1v1h-1zM298 192h1v1h-1zM311 192h1v1h-1zM335 192h2v1h-2zM356 192h1v1h-1zM361 192h1v1h-1zM397 192h1v1h-1zM405 192h1v1h-1zM72 193h1v1h-1zM77 193h1v1h-1zM102 193h3v1h-3zM149 193h2v1h-2zM182 193h1v1h-1zM184 193h1v1h-1zM186 193h1v1h-1zM189 193h1v1h-1zM218 193h1v1h-1zM222 193h1v1h-1zM225 193h1v1h-1zM228 193h1v1h-1zM230 193h1v1h-1zM235 193h1v1h-1zM237 193h1v1h-1zM288 193h2v1h-2zM292 193h1v1h-1zM294 193h1v1h-1zM298 193h1v1h-1zM312 193h1v1h-1zM334 193h1v1h-1zM336 193h1v1h-1zM356 193h1v1h-1zM361 193h1v1h-1zM396 193h1v1h-1zM405 193h1v1h-1zM72 194h1v1h-1zM77 194h1v1h-1zM150 194h1v1h-1zM182 194h2v1h-2zM185 194h2v1h-2zM189 194h1v1h-1zM211 194h2v1h-2zM218 194h1v1h-1zM222 194h1v1h-1zM225 194h1v1h-1zM228 194h1v1h-1zM230 194h1v1h-1zM236 194h2v1h-2zM289 194h1v1h-1zM293 194h2v1h-2zM312 194h1v1h-1zM334 194h1v1h-1zM337 194h1v1h-1zM356 194h1v1h-1zM361 194h1v1h-1zM391 194h1v1h-1zM396 194h1v1h-1zM406 194h1v1h-1zM412 194h1v1h-1zM73 195h1v1h-1zM76 195h1v1h-1zM150 195h1v1h-1zM182 195h2v1h-2zM190 195h1v1h-1zM193 195h1v1h-1zM209 195h2v1h-2zM213 195h2v1h-2zM218 195h1v1h-1zM222 195h1v1h-1zM225 195h1v1h-1zM228 195h1v1h-1zM230 195h1v1h-1zM236 195h2v1h-2zM312 195h1v1h-1zM334 195h1v1h-1zM337 195h1v1h-1zM356 195h1v1h-1zM361 195h1v1h-1zM391 195h1v1h-1zM396 195h1v1h-1zM406 195h1v1h-1zM412 195h2v1h-2zM73 196h1v1h-1zM76 196h1v1h-1zM183 196h1v1h-1zM191 196h3v1h-3zM209 196h2v1h-2zM215 196h1v1h-1zM218 196h1v1h-1zM223 196h2v1h-2zM229 196h1v1h-1zM237 196h1v1h-1zM312 196h1v1h-1zM329 196h1v1h-1zM333 196h1v1h-1zM337 196h1v1h-1zM355 196h1v1h-1zM361 196h1v1h-1zM391 196h2v1h-2zM395 196h1v1h-1zM406 196h1v1h-1zM409 196h2v1h-2zM412 196h2v1h-2zM74 197h1v1h-1zM76 197h1v1h-1zM192 197h1v1h-1zM194 197h1v1h-1zM209 197h1v1h-1zM215 197h1v1h-1zM218 197h1v1h-1zM223 197h2v1h-2zM229 197h1v1h-1zM312 197h1v1h-1zM328 197h1v1h-1zM330 197h1v1h-1zM333 197h1v1h-1zM337 197h1v1h-1zM354 197h2v1h-2zM362 197h1v1h-1zM390 197h1v1h-1zM392 197h1v1h-1zM395 197h1v1h-1zM407 197h2v1h-2zM410 197h2v1h-2zM413 197h1v1h-1zM569 197h1v1h-1zM74 198h1v1h-1zM76 198h1v1h-1zM194 198h1v1h-1zM199 198h1v1h-1zM201 198h1v1h-1zM208 198h1v1h-1zM215 198h1v1h-1zM218 198h1v1h-1zM223 198h2v1h-2zM313 198h1v1h-1zM328 198h1v1h-1zM330 198h1v1h-1zM333 198h1v1h-1zM338 198h1v1h-1zM349 198h1v1h-1zM352 198h2v1h-2zM362 198h1v1h-1zM390 198h1v1h-1zM393 198h1v1h-1zM395 198h1v1h-1zM407 198h1v1h-1zM411 198h1v1h-1zM414 198h1v1h-1zM569 198h1v1h-1zM75 199h2v1h-2zM195 199h1v1h-1zM198 199h2v1h-2zM201 199h1v1h-1zM205 199h1v1h-1zM208 199h1v1h-1zM216 199h1v1h-1zM218 199h1v1h-1zM224 199h1v1h-1zM313 199h1v1h-1zM328 199h1v1h-1zM330 199h1v1h-1zM333 199h1v1h-1zM338 199h1v1h-1zM349 199h1v1h-1zM351 199h1v1h-1zM362 199h1v1h-1zM390 199h1v1h-1zM393 199h1v1h-1zM395 199h1v1h-1zM411 199h1v1h-1zM414 199h1v1h-1zM569 199h1v1h-1zM195 200h1v1h-1zM197 200h1v1h-1zM200 200h1v1h-1zM202 200h1v1h-1zM205 200h1v1h-1zM207 200h2v1h-2zM216 200h1v1h-1zM218 200h1v1h-1zM313 200h1v1h-1zM328 200h1v1h-1zM331 200h1v1h-1zM333 200h1v1h-1zM338 200h1v1h-1zM348 200h1v1h-1zM350 200h1v1h-1zM362 200h1v1h-1zM390 200h1v1h-1zM393 200h1v1h-1zM395 200h1v1h-1zM414 200h1v1h-1zM569 200h1v1h-1zM196 201h2v1h-2zM200 201h1v1h-1zM203 201h3v1h-3zM207 201h1v1h-1zM216 201h1v1h-1zM218 201h1v1h-1zM313 201h1v1h-1zM328 201h1v1h-1zM331 201h2v1h-2zM339 201h1v1h-1zM348 201h1v1h-1zM362 201h1v1h-1zM390 201h1v1h-1zM394 201h1v1h-1zM414 201h1v1h-1zM475 201h1v1h-1zM569 201h1v1h-1zM204 202h1v1h-1zM206 202h1v1h-1zM216 202h2v1h-2zM313 202h1v1h-1zM327 202h1v1h-1zM331 202h2v1h-2zM339 202h1v1h-1zM348 202h1v1h-1zM363 202h1v1h-1zM382 202h1v1h-1zM389 202h1v1h-1zM394 202h1v1h-1zM415 202h1v1h-1zM475 202h1v1h-1zM568 202h2v1h-2zM206 203h1v1h-1zM216 203h2v1h-2zM314 203h1v1h-1zM325 203h1v1h-1zM327 203h1v1h-1zM331 203h2v1h-2zM339 203h1v1h-1zM348 203h1v1h-1zM363 203h1v1h-1zM382 203h1v1h-1zM389 203h1v1h-1zM394 203h1v1h-1zM415 203h1v1h-1zM475 203h1v1h-1zM568 203h2v1h-2zM217 204h1v1h-1zM314 204h2v1h-2zM324 204h2v1h-2zM327 204h1v1h-1zM332 204h1v1h-1zM339 204h1v1h-1zM348 204h1v1h-1zM363 204h1v1h-1zM381 204h2v1h-2zM389 204h1v1h-1zM415 204h1v1h-1zM475 204h2v1h-2zM568 204h2v1h-2zM217 205h1v1h-1zM315 205h1v1h-1zM324 205h2v1h-2zM327 205h1v1h-1zM339 205h1v1h-1zM347 205h1v1h-1zM363 205h1v1h-1zM381 205h1v1h-1zM383 205h1v1h-1zM389 205h1v1h-1zM415 205h1v1h-1zM475 205h2v1h-2zM568 205h1v1h-1zM570 205h1v1h-1zM217 206h1v1h-1zM315 206h1v1h-1zM323 206h1v1h-1zM325 206h1v1h-1zM327 206h1v1h-1zM339 206h1v1h-1zM347 206h1v1h-1zM364 206h1v1h-1zM377 206h1v1h-1zM381 206h1v1h-1zM383 206h1v1h-1zM388 206h1v1h-1zM416 206h1v1h-1zM446 206h1v1h-1zM474 206h1v1h-1zM476 206h1v1h-1zM568 206h1v1h-1zM570 206h1v1h-1zM316 207h1v1h-1zM320 207h1v1h-1zM322 207h1v1h-1zM326 207h2v1h-2zM340 207h1v1h-1zM346 207h2v1h-2zM364 207h1v1h-1zM377 207h2v1h-2zM381 207h1v1h-1zM383 207h1v1h-1zM388 207h1v1h-1zM416 207h1v1h-1zM421 207h2v1h-2zM424 207h1v1h-1zM446 207h1v1h-1zM474 207h1v1h-1zM476 207h1v1h-1zM479 207h1v1h-1zM568 207h1v1h-1zM570 207h1v1h-1zM316 208h1v1h-1zM320 208h1v1h-1zM322 208h1v1h-1zM326 208h1v1h-1zM340 208h1v1h-1zM345 208h3v1h-3zM364 208h1v1h-1zM366 208h1v1h-1zM377 208h1v1h-1zM379 208h2v1h-2zM383 208h1v1h-1zM388 208h1v1h-1zM416 208h1v1h-1zM420 208h1v1h-1zM423 208h2v1h-2zM433 208h1v1h-1zM446 208h1v1h-1zM474 208h1v1h-1zM477 208h1v1h-1zM479 208h2v1h-2zM504 208h1v1h-1zM517 208h1v1h-1zM568 208h1v1h-1zM570 208h1v1h-1zM316 209h1v1h-1zM319 209h2v1h-2zM322 209h1v1h-1zM326 209h1v1h-1zM340 209h1v1h-1zM345 209h1v1h-1zM347 209h1v1h-1zM365 209h1v1h-1zM367 209h1v1h-1zM376 209h1v1h-1zM379 209h2v1h-2zM383 209h1v1h-1zM388 209h1v1h-1zM416 209h1v1h-1zM419 209h1v1h-1zM425 209h1v1h-1zM433 209h1v1h-1zM446 209h2v1h-2zM474 209h1v1h-1zM477 209h2v1h-2zM481 209h1v1h-1zM503 209h2v1h-2zM516 209h2v1h-2zM568 209h1v1h-1zM570 209h1v1h-1zM317 210h3v1h-3zM321 210h1v1h-1zM326 210h1v1h-1zM340 210h1v1h-1zM345 210h1v1h-1zM365 210h1v1h-1zM368 210h4v1h-4zM376 210h1v1h-1zM380 210h1v1h-1zM384 210h1v1h-1zM387 210h1v1h-1zM417 210h2v1h-2zM425 210h1v1h-1zM432 210h2v1h-2zM446 210h2v1h-2zM474 210h1v1h-1zM478 210h1v1h-1zM481 210h1v1h-1zM483 210h2v1h-2zM503 210h1v1h-1zM505 210h1v1h-1zM516 210h1v1h-1zM518 210h1v1h-1zM533 210h1v1h-1zM568 210h1v1h-1zM570 210h1v1h-1zM319 211h1v1h-1zM321 211h1v1h-1zM340 211h1v1h-1zM344 211h1v1h-1zM372 211h1v1h-1zM376 211h1v1h-1zM384 211h1v1h-1zM387 211h1v1h-1zM417 211h1v1h-1zM426 211h1v1h-1zM432 211h1v1h-1zM434 211h1v1h-1zM445 211h1v1h-1zM447 211h1v1h-1zM474 211h1v1h-1zM482 211h1v1h-1zM484 211h1v1h-1zM503 211h1v1h-1zM505 211h1v1h-1zM515 211h1v1h-1zM518 211h1v1h-1zM532 211h2v1h-2zM568 211h1v1h-1zM570 211h1v1h-1zM340 212h1v1h-1zM344 212h1v1h-1zM372 212h1v1h-1zM376 212h1v1h-1zM384 212h1v1h-1zM387 212h1v1h-1zM426 212h1v1h-1zM432 212h1v1h-1zM434 212h1v1h-1zM445 212h1v1h-1zM447 212h1v1h-1zM474 212h1v1h-1zM482 212h1v1h-1zM484 212h1v1h-1zM502 212h1v1h-1zM505 212h1v1h-1zM515 212h1v1h-1zM519 212h1v1h-1zM532 212h2v1h-2zM568 212h1v1h-1zM570 212h1v1h-1zM340 213h1v1h-1zM344 213h1v1h-1zM373 213h1v1h-1zM375 213h1v1h-1zM384 213h1v1h-1zM386 213h1v1h-1zM427 213h1v1h-1zM432 213h1v1h-1zM434 213h1v1h-1zM445 213h1v1h-1zM447 213h1v1h-1zM474 213h1v1h-1zM484 213h1v1h-1zM502 213h1v1h-1zM506 213h1v1h-1zM515 213h1v1h-1zM519 213h2v1h-2zM532 213h1v1h-1zM534 213h1v1h-1zM568 213h1v1h-1zM570 213h1v1h-1zM340 214h1v1h-1zM344 214h1v1h-1zM374 214h2v1h-2zM384 214h1v1h-1zM386 214h1v1h-1zM427 214h1v1h-1zM432 214h1v1h-1zM434 214h1v1h-1zM445 214h1v1h-1zM448 214h1v1h-1zM473 214h1v1h-1zM485 214h1v1h-1zM502 214h1v1h-1zM506 214h1v1h-1zM514 214h1v1h-1zM521 214h1v1h-1zM532 214h1v1h-1zM534 214h1v1h-1zM567 214h1v1h-1zM570 214h1v1h-1zM340 215h1v1h-1zM344 215h1v1h-1zM385 215h2v1h-2zM427 215h1v1h-1zM432 215h1v1h-1zM435 215h1v1h-1zM445 215h1v1h-1zM448 215h1v1h-1zM473 215h1v1h-1zM485 215h1v1h-1zM492 215h1v1h-1zM502 215h1v1h-1zM506 215h1v1h-1zM508 215h1v1h-1zM514 215h1v1h-1zM521 215h1v1h-1zM531 215h1v1h-1zM534 215h1v1h-1zM536 215h1v1h-1zM567 215h1v1h-1zM570 215h1v1h-1zM341 216h1v1h-1zM344 216h1v1h-1zM385 216h1v1h-1zM427 216h1v1h-1zM431 216h1v1h-1zM435 216h1v1h-1zM445 216h1v1h-1zM448 216h1v1h-1zM473 216h1v1h-1zM485 216h1v1h-1zM491 216h2v1h-2zM495 216h2v1h-2zM501 216h1v1h-1zM507 216h1v1h-1zM509 216h1v1h-1zM511 216h1v1h-1zM514 216h1v1h-1zM521 216h1v1h-1zM524 216h2v1h-2zM531 216h1v1h-1zM535 216h2v1h-2zM567 216h1v1h-1zM570 216h1v1h-1zM341 217h1v1h-1zM343 217h1v1h-1zM385 217h1v1h-1zM427 217h1v1h-1zM431 217h1v1h-1zM435 217h1v1h-1zM445 217h1v1h-1zM448 217h1v1h-1zM461 217h1v1h-1zM473 217h1v1h-1zM485 217h1v1h-1zM490 217h1v1h-1zM493 217h2v1h-2zM496 217h1v1h-1zM501 217h1v1h-1zM510 217h2v1h-2zM514 217h1v1h-1zM522 217h1v1h-1zM524 217h1v1h-1zM526 217h1v1h-1zM531 217h1v1h-1zM537 217h1v1h-1zM567 217h1v1h-1zM570 217h1v1h-1zM341 218h1v1h-1zM343 218h1v1h-1zM428 218h1v1h-1zM431 218h1v1h-1zM435 218h1v1h-1zM445 218h1v1h-1zM448 218h1v1h-1zM461 218h1v1h-1zM472 218h1v1h-1zM485 218h1v1h-1zM489 218h2v1h-2zM493 218h1v1h-1zM497 218h1v1h-1zM500 218h1v1h-1zM512 218h2v1h-2zM522 218h1v1h-1zM524 218h1v1h-1zM527 218h1v1h-1zM531 218h1v1h-1zM537 218h1v1h-1zM567 218h1v1h-1zM571 218h1v1h-1zM341 219h1v1h-1zM343 219h1v1h-1zM428 219h1v1h-1zM431 219h1v1h-1zM436 219h1v1h-1zM444 219h1v1h-1zM448 219h1v1h-1zM461 219h2v1h-2zM466 219h1v1h-1zM468 219h1v1h-1zM472 219h1v1h-1zM486 219h1v1h-1zM489 219h1v1h-1zM497 219h1v1h-1zM500 219h1v1h-1zM512 219h2v1h-2zM522 219h2v1h-2zM527 219h1v1h-1zM531 219h1v1h-1zM537 219h1v1h-1zM567 219h1v1h-1zM571 219h1v1h-1zM341 220h1v1h-1zM343 220h1v1h-1zM428 220h1v1h-1zM431 220h1v1h-1zM436 220h1v1h-1zM444 220h1v1h-1zM448 220h1v1h-1zM461 220h2v1h-2zM466 220h3v1h-3zM470 220h1v1h-1zM472 220h1v1h-1zM486 220h1v1h-1zM488 220h1v1h-1zM497 220h1v1h-1zM499 220h1v1h-1zM513 220h1v1h-1zM523 220h1v1h-1zM528 220h1v1h-1zM531 220h1v1h-1zM537 220h1v1h-1zM567 220h1v1h-1zM571 220h1v1h-1zM341 221h1v1h-1zM343 221h1v1h-1zM428 221h1v1h-1zM431 221h1v1h-1zM436 221h1v1h-1zM444 221h1v1h-1zM449 221h1v1h-1zM461 221h1v1h-1zM463 221h1v1h-1zM466 221h1v1h-1zM468 221h1v1h-1zM470 221h1v1h-1zM472 221h1v1h-1zM486 221h1v1h-1zM488 221h1v1h-1zM498 221h2v1h-2zM523 221h1v1h-1zM528 221h1v1h-1zM530 221h1v1h-1zM538 221h1v1h-1zM567 221h1v1h-1zM571 221h1v1h-1zM341 222h1v1h-1zM343 222h1v1h-1zM428 222h1v1h-1zM431 222h1v1h-1zM436 222h1v1h-1zM441 222h1v1h-1zM443 222h1v1h-1zM449 222h1v1h-1zM454 222h1v1h-1zM461 222h1v1h-1zM464 222h2v1h-2zM469 222h2v1h-2zM472 222h1v1h-1zM486 222h1v1h-1zM488 222h1v1h-1zM498 222h1v1h-1zM528 222h1v1h-1zM530 222h1v1h-1zM538 222h1v1h-1zM567 222h1v1h-1zM571 222h1v1h-1zM341 223h2v1h-2zM428 223h1v1h-1zM431 223h1v1h-1zM437 223h1v1h-1zM441 223h2v1h-2zM449 223h1v1h-1zM454 223h1v1h-1zM461 223h1v1h-1zM464 223h2v1h-2zM469 223h1v1h-1zM471 223h1v1h-1zM487 223h1v1h-1zM529 223h2v1h-2zM538 223h1v1h-1zM567 223h1v1h-1zM571 223h1v1h-1zM342 224h1v1h-1zM429 224h1v1h-1zM431 224h1v1h-1zM437 224h2v1h-2zM440 224h1v1h-1zM449 224h1v1h-1zM453 224h1v1h-1zM455 224h1v1h-1zM460 224h1v1h-1zM465 224h1v1h-1zM471 224h1v1h-1zM487 224h1v1h-1zM529 224h2v1h-2zM538 224h1v1h-1zM540 224h1v1h-1zM567 224h1v1h-1zM571 224h1v1h-1zM342 225h1v1h-1zM429 225h2v1h-2zM439 225h2v1h-2zM449 225h1v1h-1zM451 225h1v1h-1zM453 225h1v1h-1zM456 225h1v1h-1zM460 225h1v1h-1zM471 225h1v1h-1zM487 225h1v1h-1zM538 225h1v1h-1zM540 225h1v1h-1zM567 225h1v1h-1zM571 225h1v1h-1zM582 225h1v1h-1zM342 226h1v1h-1zM429 226h2v1h-2zM450 226h1v1h-1zM452 226h2v1h-2zM457 226h1v1h-1zM460 226h1v1h-1zM539 226h1v1h-1zM541 226h1v1h-1zM567 226h1v1h-1zM571 226h1v1h-1zM582 226h1v1h-1zM429 227h2v1h-2zM457 227h1v1h-1zM460 227h1v1h-1zM539 227h1v1h-1zM541 227h1v1h-1zM567 227h1v1h-1zM572 227h1v1h-1zM582 227h2v1h-2zM429 228h2v1h-2zM458 228h1v1h-1zM460 228h1v1h-1zM539 228h1v1h-1zM541 228h1v1h-1zM567 228h1v1h-1zM572 228h1v1h-1zM581 228h1v1h-1zM583 228h1v1h-1zM430 229h1v1h-1zM459 229h2v1h-2zM542 229h3v1h-3zM567 229h1v1h-1zM572 229h1v1h-1zM581 229h1v1h-1zM584 229h1v1h-1zM430 230h1v1h-1zM459 230h2v1h-2zM542 230h1v1h-1zM544 230h1v1h-1zM567 230h1v1h-1zM572 230h1v1h-1zM581 230h1v1h-1zM584 230h1v1h-1zM460 231h1v1h-1zM545 231h2v1h-2zM566 231h1v1h-1zM573 231h1v1h-1zM581 231h1v1h-1zM584 231h1v1h-1zM546 232h1v1h-1zM566 232h1v1h-1zM573 232h1v1h-1zM580 232h1v1h-1zM584 232h1v1h-1zM547 233h1v1h-1zM566 233h1v1h-1zM574 233h1v1h-1zM576 233h1v1h-1zM580 233h1v1h-1zM585 233h1v1h-1zM589 233h1v1h-1zM547 234h1v1h-1zM566 234h1v1h-1zM574 234h3v1h-3zM578 234h2v1h-2zM585 234h2v1h-2zM588 234h2v1h-2zM591 234h2v1h-2zM547 235h1v1h-1zM566 235h1v1h-1zM577 235h1v1h-1zM586 235h2v1h-2zM589 235h1v1h-1zM591 235h2v1h-2zM547 236h1v1h-1zM566 236h1v1h-1zM587 236h1v1h-1zM590 236h1v1h-1zM592 236h1v1h-1zM548 237h1v1h-1zM563 237h4v1h-4zM590 237h1v1h-1zM593 237h1v1h-1zM548 238h1v1h-1zM562 238h1v1h-1zM565 238h2v1h-2zM593 238h1v1h-1zM548 239h1v1h-1zM561 239h1v1h-1zM566 239h1v1h-1zM593 239h1v1h-1zM548 240h1v1h-1zM559 240h3v1h-3zM566 240h1v1h-1zM593 240h1v1h-1zM548 241h1v1h-1zM559 241h1v1h-1zM594 241h1v1h-1zM548 242h1v1h-1zM558 242h1v1h-1zM594 242h1v1h-1zM549 243h1v1h-1zM558 243h1v1h-1zM594 243h1v1h-1zM549 244h1v1h-1zM558 244h1v1h-1zM595 244h1v1h-1zM549 245h1v1h-1zM558 245h1v1h-1zM595 245h1v1h-1zM549 246h1v1h-1zM555 246h1v1h-1zM558 246h1v1h-1zM596 246h1v1h-1zM549 247h1v1h-1zM555 247h1v1h-1zM557 247h1v1h-1zM597 247h1v1h-1zM549 248h1v1h-1zM554 248h1v1h-1zM556 248h2v1h-2zM597 248h1v1h-1zM618 248h1v1h-1zM549 249h1v1h-1zM554 249h1v1h-1zM557 249h1v1h-1zM597 249h1v1h-1zM606 249h1v1h-1zM617 249h1v1h-1zM619 249h1v1h-1zM550 250h1v1h-1zM554 250h1v1h-1zM598 250h1v1h-1zM604 250h1v1h-1zM606 250h2v1h-2zM616 250h1v1h-1zM620 250h1v1h-1zM550 251h1v1h-1zM554 251h1v1h-1zM598 251h1v1h-1zM604 251h2v1h-2zM607 251h1v1h-1zM609 251h1v1h-1zM616 251h1v1h-1zM550 252h1v1h-1zM554 252h1v1h-1zM598 252h1v1h-1zM604 252h2v1h-2zM608 252h1v1h-1zM610 252h1v1h-1zM616 252h1v1h-1zM550 253h1v1h-1zM554 253h1v1h-1zM599 253h1v1h-1zM603 253h1v1h-1zM610 253h1v1h-1zM615 253h1v1h-1zM550 254h1v1h-1zM554 254h1v1h-1zM599 254h1v1h-1zM603 254h1v1h-1zM611 254h1v1h-1zM615 254h1v1h-1zM550 255h1v1h-1zM553 255h1v1h-1zM600 255h1v1h-1zM603 255h1v1h-1zM612 255h1v1h-1zM615 255h1v1h-1zM550 256h1v1h-1zM553 256h1v1h-1zM600 256h1v1h-1zM603 256h1v1h-1zM613 256h2v1h-2zM550 257h1v1h-1zM553 257h1v1h-1zM601 257h1v1h-1zM603 257h1v1h-1zM613 257h2v1h-2zM550 258h1v1h-1zM553 258h1v1h-1zM601 258h1v1h-1zM603 258h1v1h-1zM614 258h1v1h-1zM550 259h1v1h-1zM553 259h1v1h-1zM601 259h1v1h-1zM603 259h1v1h-1zM551 260h1v1h-1zM553 260h1v1h-1zM601 260h2v1h-2zM551 261h1v1h-1zM553 261h1v1h-1zM602 261h1v1h-1zM551 262h1v1h-1zM553 262h1v1h-1zM602 262h1v1h-1zM551 263h1v1h-1zM553 263h1v1h-1zM602 263h1v1h-1zM551 264h1v1h-1zM553 264h1v1h-1zM551 265h1v1h-1zM553 265h1v1h-1zM551 266h1v1h-1zM553 266h1v1h-1zM551 267h1v1h-1zM553 267h1v1h-1zM551 268h2v1h-2zM551 269h2v1h-2zM552 270h1v1h-1zM552 271h1v1h-1zM552 272h1v1h-1zM552 273h1v1h-1zM552 274h1v1h-1zM552 275h1v1h-1z"/>
<g><text x="310" y="23">p2020_17</text><text x="18" y="84">4000</text><text x="18" y="167">2000</text><text x="36" y="250">0</text><text x="12" y="333">-2000</text><text x="12" y="416">-4000</text><text x="48" y="471">0</text><text x="148" y="471">100</text><text x="254" y="471">200</text><text x="360" y="471">300</text><text x="466" y="471">400</text><text x="573" y="471">500</text><text x="539" y="53">line 1</text><text x="539" y="66">line 2</text></g>
</svg>
</body></html>
